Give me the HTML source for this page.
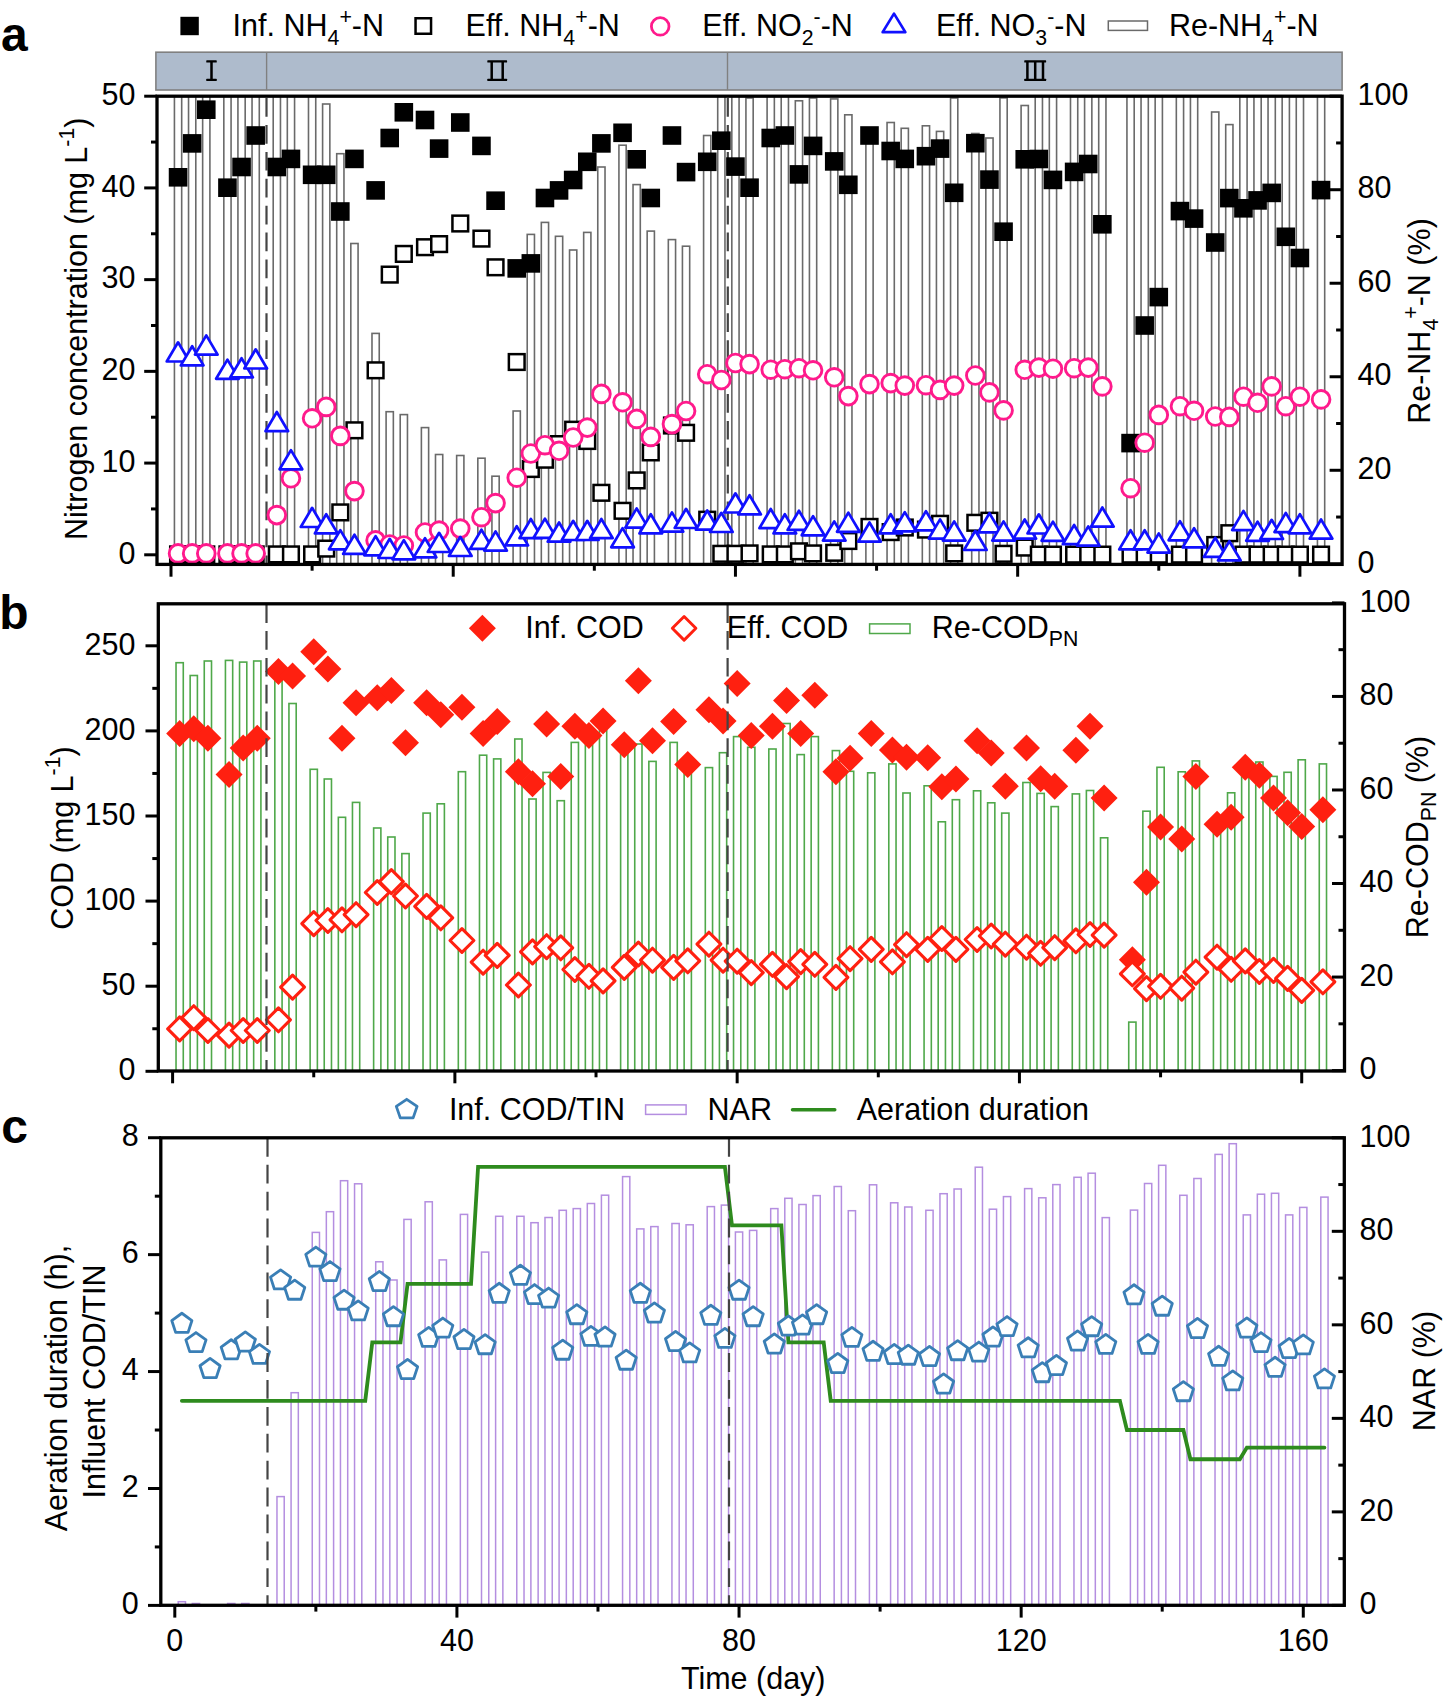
<!DOCTYPE html>
<html><head><meta charset="utf-8"><style>html,body{margin:0;padding:0;background:#fff;}svg{display:block;}</style></head><body>
<svg width="1450" height="1702" viewBox="0 0 1450 1702">
<rect width="100%" height="100%" fill="#fff"/>
<rect x="174.43" y="96" width="7.25" height="468.4" fill="#fff" stroke="#6a6a6a" stroke-width="1.6"/>
<rect x="188.54" y="96" width="7.25" height="468.4" fill="#fff" stroke="#6a6a6a" stroke-width="1.6"/>
<rect x="202.65" y="96" width="7.25" height="468.4" fill="#fff" stroke="#6a6a6a" stroke-width="1.6"/>
<rect x="223.82" y="96" width="7.25" height="468.4" fill="#fff" stroke="#6a6a6a" stroke-width="1.6"/>
<rect x="237.93" y="96" width="7.25" height="468.4" fill="#fff" stroke="#6a6a6a" stroke-width="1.6"/>
<rect x="252.04" y="96" width="7.25" height="468.4" fill="#fff" stroke="#6a6a6a" stroke-width="1.6"/>
<rect x="273.21" y="96" width="7.25" height="468.4" fill="#fff" stroke="#6a6a6a" stroke-width="1.6"/>
<rect x="287.32" y="96" width="7.25" height="468.4" fill="#fff" stroke="#6a6a6a" stroke-width="1.6"/>
<rect x="308.49" y="96" width="7.25" height="468.4" fill="#fff" stroke="#6a6a6a" stroke-width="1.6"/>
<rect x="322.6" y="104" width="7.25" height="460.4" fill="#fff" stroke="#6a6a6a" stroke-width="1.6"/>
<rect x="336.71" y="153.7" width="7.25" height="410.7" fill="#fff" stroke="#6a6a6a" stroke-width="1.6"/>
<rect x="350.82" y="243.5" width="7.25" height="320.9" fill="#fff" stroke="#6a6a6a" stroke-width="1.6"/>
<rect x="371.99" y="333.4" width="7.25" height="231" fill="#fff" stroke="#6a6a6a" stroke-width="1.6"/>
<rect x="386.1" y="411.7" width="7.25" height="152.7" fill="#fff" stroke="#6a6a6a" stroke-width="1.6"/>
<rect x="400.21" y="414.6" width="7.25" height="149.8" fill="#fff" stroke="#6a6a6a" stroke-width="1.6"/>
<rect x="421.38" y="427.6" width="7.25" height="136.8" fill="#fff" stroke="#6a6a6a" stroke-width="1.6"/>
<rect x="435.49" y="454.5" width="7.25" height="109.9" fill="#fff" stroke="#6a6a6a" stroke-width="1.6"/>
<rect x="456.65" y="455.5" width="7.25" height="108.9" fill="#fff" stroke="#6a6a6a" stroke-width="1.6"/>
<rect x="477.82" y="458.2" width="7.25" height="106.2" fill="#fff" stroke="#6a6a6a" stroke-width="1.6"/>
<rect x="491.93" y="476.2" width="7.25" height="88.2" fill="#fff" stroke="#6a6a6a" stroke-width="1.6"/>
<rect x="513.1" y="411" width="7.25" height="153.4" fill="#fff" stroke="#6a6a6a" stroke-width="1.6"/>
<rect x="527.21" y="234.4" width="7.25" height="330" fill="#fff" stroke="#6a6a6a" stroke-width="1.6"/>
<rect x="541.32" y="222.4" width="7.25" height="342" fill="#fff" stroke="#6a6a6a" stroke-width="1.6"/>
<rect x="555.43" y="236.3" width="7.25" height="328.1" fill="#fff" stroke="#6a6a6a" stroke-width="1.6"/>
<rect x="569.54" y="250" width="7.25" height="314.4" fill="#fff" stroke="#6a6a6a" stroke-width="1.6"/>
<rect x="583.66" y="232.4" width="7.25" height="332" fill="#fff" stroke="#6a6a6a" stroke-width="1.6"/>
<rect x="597.77" y="167" width="7.25" height="397.4" fill="#fff" stroke="#6a6a6a" stroke-width="1.6"/>
<rect x="618.93" y="145.2" width="7.25" height="419.2" fill="#fff" stroke="#6a6a6a" stroke-width="1.6"/>
<rect x="633.04" y="184.6" width="7.25" height="379.8" fill="#fff" stroke="#6a6a6a" stroke-width="1.6"/>
<rect x="647.16" y="231.1" width="7.25" height="333.3" fill="#fff" stroke="#6a6a6a" stroke-width="1.6"/>
<rect x="668.32" y="239.6" width="7.25" height="324.8" fill="#fff" stroke="#6a6a6a" stroke-width="1.6"/>
<rect x="682.43" y="246.2" width="7.25" height="318.2" fill="#fff" stroke="#6a6a6a" stroke-width="1.6"/>
<rect x="703.6" y="135.5" width="7.25" height="428.9" fill="#fff" stroke="#6a6a6a" stroke-width="1.6"/>
<rect x="717.71" y="96" width="7.25" height="468.4" fill="#fff" stroke="#6a6a6a" stroke-width="1.6"/>
<rect x="731.82" y="96" width="7.25" height="468.4" fill="#fff" stroke="#6a6a6a" stroke-width="1.6"/>
<rect x="745.93" y="98" width="7.25" height="466.4" fill="#fff" stroke="#6a6a6a" stroke-width="1.6"/>
<rect x="767.1" y="96" width="7.25" height="468.4" fill="#fff" stroke="#6a6a6a" stroke-width="1.6"/>
<rect x="781.21" y="96" width="7.25" height="468.4" fill="#fff" stroke="#6a6a6a" stroke-width="1.6"/>
<rect x="795.32" y="100.8" width="7.25" height="463.6" fill="#fff" stroke="#6a6a6a" stroke-width="1.6"/>
<rect x="809.43" y="98" width="7.25" height="466.4" fill="#fff" stroke="#6a6a6a" stroke-width="1.6"/>
<rect x="830.6" y="98.9" width="7.25" height="465.5" fill="#fff" stroke="#6a6a6a" stroke-width="1.6"/>
<rect x="844.71" y="114.8" width="7.25" height="449.6" fill="#fff" stroke="#6a6a6a" stroke-width="1.6"/>
<rect x="865.88" y="130" width="7.25" height="434.4" fill="#fff" stroke="#6a6a6a" stroke-width="1.6"/>
<rect x="887.05" y="122.5" width="7.25" height="441.9" fill="#fff" stroke="#6a6a6a" stroke-width="1.6"/>
<rect x="901.16" y="128.3" width="7.25" height="436.1" fill="#fff" stroke="#6a6a6a" stroke-width="1.6"/>
<rect x="922.32" y="125.8" width="7.25" height="438.6" fill="#fff" stroke="#6a6a6a" stroke-width="1.6"/>
<rect x="936.44" y="131.4" width="7.25" height="433" fill="#fff" stroke="#6a6a6a" stroke-width="1.6"/>
<rect x="950.55" y="98" width="7.25" height="466.4" fill="#fff" stroke="#6a6a6a" stroke-width="1.6"/>
<rect x="971.71" y="133.5" width="7.25" height="430.9" fill="#fff" stroke="#6a6a6a" stroke-width="1.6"/>
<rect x="985.82" y="138" width="7.25" height="426.4" fill="#fff" stroke="#6a6a6a" stroke-width="1.6"/>
<rect x="999.94" y="97.9" width="7.25" height="466.5" fill="#fff" stroke="#6a6a6a" stroke-width="1.6"/>
<rect x="1021.1" y="105.5" width="7.25" height="458.9" fill="#fff" stroke="#6a6a6a" stroke-width="1.6"/>
<rect x="1035.21" y="96" width="7.25" height="468.4" fill="#fff" stroke="#6a6a6a" stroke-width="1.6"/>
<rect x="1049.33" y="96" width="7.25" height="468.4" fill="#fff" stroke="#6a6a6a" stroke-width="1.6"/>
<rect x="1070.49" y="96" width="7.25" height="468.4" fill="#fff" stroke="#6a6a6a" stroke-width="1.6"/>
<rect x="1084.6" y="96" width="7.25" height="468.4" fill="#fff" stroke="#6a6a6a" stroke-width="1.6"/>
<rect x="1098.71" y="96" width="7.25" height="468.4" fill="#fff" stroke="#6a6a6a" stroke-width="1.6"/>
<rect x="1126.94" y="96" width="7.25" height="468.4" fill="#fff" stroke="#6a6a6a" stroke-width="1.6"/>
<rect x="1141.05" y="96" width="7.25" height="468.4" fill="#fff" stroke="#6a6a6a" stroke-width="1.6"/>
<rect x="1155.16" y="96" width="7.25" height="468.4" fill="#fff" stroke="#6a6a6a" stroke-width="1.6"/>
<rect x="1176.33" y="96" width="7.25" height="468.4" fill="#fff" stroke="#6a6a6a" stroke-width="1.6"/>
<rect x="1190.44" y="96" width="7.25" height="468.4" fill="#fff" stroke="#6a6a6a" stroke-width="1.6"/>
<rect x="1211.6" y="112" width="7.25" height="452.4" fill="#fff" stroke="#6a6a6a" stroke-width="1.6"/>
<rect x="1225.71" y="124.6" width="7.25" height="439.8" fill="#fff" stroke="#6a6a6a" stroke-width="1.6"/>
<rect x="1239.83" y="96" width="7.25" height="468.4" fill="#fff" stroke="#6a6a6a" stroke-width="1.6"/>
<rect x="1253.94" y="96" width="7.25" height="468.4" fill="#fff" stroke="#6a6a6a" stroke-width="1.6"/>
<rect x="1268.05" y="96" width="7.25" height="468.4" fill="#fff" stroke="#6a6a6a" stroke-width="1.6"/>
<rect x="1282.16" y="96" width="7.25" height="468.4" fill="#fff" stroke="#6a6a6a" stroke-width="1.6"/>
<rect x="1296.27" y="96" width="7.25" height="468.4" fill="#fff" stroke="#6a6a6a" stroke-width="1.6"/>
<rect x="1317.44" y="96" width="7.25" height="468.4" fill="#fff" stroke="#6a6a6a" stroke-width="1.6"/>
<line x1="266.5" y1="98.1" x2="266.5" y2="564.4" stroke="#444" stroke-width="2.2" stroke-dasharray="18.7 8.2"/>
<line x1="727.8" y1="98.1" x2="727.8" y2="564.4" stroke="#444" stroke-width="2.2" stroke-dasharray="18.7 8.2"/>
<rect x="168.76" y="168" width="18.6" height="18.6" fill="#000"/>
<rect x="182.87" y="134.1" width="18.6" height="18.6" fill="#000"/>
<rect x="196.98" y="100.4" width="18.6" height="18.6" fill="#000"/>
<rect x="218.14" y="178.4" width="18.6" height="18.6" fill="#000"/>
<rect x="232.26" y="157.7" width="18.6" height="18.6" fill="#000"/>
<rect x="246.37" y="126.2" width="18.6" height="18.6" fill="#000"/>
<rect x="267.53" y="157.7" width="18.6" height="18.6" fill="#000"/>
<rect x="281.65" y="149.6" width="18.6" height="18.6" fill="#000"/>
<rect x="302.81" y="165.5" width="18.6" height="18.6" fill="#000"/>
<rect x="316.92" y="165.5" width="18.6" height="18.6" fill="#000"/>
<rect x="331.03" y="202.2" width="18.6" height="18.6" fill="#000"/>
<rect x="345.15" y="149.6" width="18.6" height="18.6" fill="#000"/>
<rect x="366.31" y="181.1" width="18.6" height="18.6" fill="#000"/>
<rect x="380.42" y="128.7" width="18.6" height="18.6" fill="#000"/>
<rect x="394.53" y="103" width="18.6" height="18.6" fill="#000"/>
<rect x="415.7" y="110.7" width="18.6" height="18.6" fill="#000"/>
<rect x="429.81" y="139.3" width="18.6" height="18.6" fill="#000"/>
<rect x="450.98" y="113.2" width="18.6" height="18.6" fill="#000"/>
<rect x="472.15" y="136.6" width="18.6" height="18.6" fill="#000"/>
<rect x="486.26" y="191.4" width="18.6" height="18.6" fill="#000"/>
<rect x="507.42" y="259.1" width="18.6" height="18.6" fill="#000"/>
<rect x="521.54" y="254.1" width="18.6" height="18.6" fill="#000"/>
<rect x="535.65" y="188.7" width="18.6" height="18.6" fill="#000"/>
<rect x="549.76" y="181.1" width="18.6" height="18.6" fill="#000"/>
<rect x="563.87" y="170.7" width="18.6" height="18.6" fill="#000"/>
<rect x="577.98" y="152.5" width="18.6" height="18.6" fill="#000"/>
<rect x="592.09" y="134.1" width="18.6" height="18.6" fill="#000"/>
<rect x="613.26" y="123.5" width="18.6" height="18.6" fill="#000"/>
<rect x="627.37" y="150" width="18.6" height="18.6" fill="#000"/>
<rect x="641.48" y="188.7" width="18.6" height="18.6" fill="#000"/>
<rect x="662.65" y="126.2" width="18.6" height="18.6" fill="#000"/>
<rect x="676.76" y="162.8" width="18.6" height="18.6" fill="#000"/>
<rect x="697.93" y="152.5" width="18.6" height="18.6" fill="#000"/>
<rect x="712.04" y="131.4" width="18.6" height="18.6" fill="#000"/>
<rect x="726.15" y="157.3" width="18.6" height="18.6" fill="#000"/>
<rect x="740.26" y="178.4" width="18.6" height="18.6" fill="#000"/>
<rect x="761.43" y="128.7" width="18.6" height="18.6" fill="#000"/>
<rect x="775.54" y="126.2" width="18.6" height="18.6" fill="#000"/>
<rect x="789.65" y="165.1" width="18.6" height="18.6" fill="#000"/>
<rect x="803.76" y="136.6" width="18.6" height="18.6" fill="#000"/>
<rect x="824.93" y="152.1" width="18.6" height="18.6" fill="#000"/>
<rect x="839.04" y="175.5" width="18.6" height="18.6" fill="#000"/>
<rect x="860.2" y="126.2" width="18.6" height="18.6" fill="#000"/>
<rect x="881.37" y="141.7" width="18.6" height="18.6" fill="#000"/>
<rect x="895.48" y="149.6" width="18.6" height="18.6" fill="#000"/>
<rect x="916.65" y="146.9" width="18.6" height="18.6" fill="#000"/>
<rect x="930.76" y="139.3" width="18.6" height="18.6" fill="#000"/>
<rect x="944.87" y="183.5" width="18.6" height="18.6" fill="#000"/>
<rect x="966.04" y="133.9" width="18.6" height="18.6" fill="#000"/>
<rect x="980.15" y="170.3" width="18.6" height="18.6" fill="#000"/>
<rect x="994.26" y="222.4" width="18.6" height="18.6" fill="#000"/>
<rect x="1015.43" y="150" width="18.6" height="18.6" fill="#000"/>
<rect x="1029.54" y="149.7" width="18.6" height="18.6" fill="#000"/>
<rect x="1043.65" y="170.6" width="18.6" height="18.6" fill="#000"/>
<rect x="1064.82" y="162.6" width="18.6" height="18.6" fill="#000"/>
<rect x="1078.93" y="154.7" width="18.6" height="18.6" fill="#000"/>
<rect x="1093.04" y="215" width="18.6" height="18.6" fill="#000"/>
<rect x="1121.26" y="433.8" width="18.6" height="18.6" fill="#000"/>
<rect x="1135.37" y="316.2" width="18.6" height="18.6" fill="#000"/>
<rect x="1149.48" y="287.8" width="18.6" height="18.6" fill="#000"/>
<rect x="1170.65" y="201.8" width="18.6" height="18.6" fill="#000"/>
<rect x="1184.76" y="209.3" width="18.6" height="18.6" fill="#000"/>
<rect x="1205.93" y="233.2" width="18.6" height="18.6" fill="#000"/>
<rect x="1220.04" y="188.8" width="18.6" height="18.6" fill="#000"/>
<rect x="1234.15" y="199" width="18.6" height="18.6" fill="#000"/>
<rect x="1248.26" y="191.1" width="18.6" height="18.6" fill="#000"/>
<rect x="1262.37" y="183.6" width="18.6" height="18.6" fill="#000"/>
<rect x="1276.48" y="227.5" width="18.6" height="18.6" fill="#000"/>
<rect x="1290.6" y="248.7" width="18.6" height="18.6" fill="#000"/>
<rect x="1311.76" y="180.8" width="18.6" height="18.6" fill="#000"/>
<rect x="170.21" y="546.55" width="15.7" height="15.7" fill="#fff" stroke="#000" stroke-width="2.5"/>
<rect x="184.32" y="546.55" width="15.7" height="15.7" fill="#fff" stroke="#000" stroke-width="2.5"/>
<rect x="198.43" y="546.55" width="15.7" height="15.7" fill="#fff" stroke="#000" stroke-width="2.5"/>
<rect x="219.59" y="546.55" width="15.7" height="15.7" fill="#fff" stroke="#000" stroke-width="2.5"/>
<rect x="233.71" y="546.55" width="15.7" height="15.7" fill="#fff" stroke="#000" stroke-width="2.5"/>
<rect x="247.82" y="546.55" width="15.7" height="15.7" fill="#fff" stroke="#000" stroke-width="2.5"/>
<rect x="268.98" y="546.55" width="15.7" height="15.7" fill="#fff" stroke="#000" stroke-width="2.5"/>
<rect x="283.1" y="546.55" width="15.7" height="15.7" fill="#fff" stroke="#000" stroke-width="2.5"/>
<rect x="304.26" y="546.55" width="15.7" height="15.7" fill="#fff" stroke="#000" stroke-width="2.5"/>
<rect x="318.37" y="540.75" width="15.7" height="15.7" fill="#fff" stroke="#000" stroke-width="2.5"/>
<rect x="332.48" y="504.55" width="15.7" height="15.7" fill="#fff" stroke="#000" stroke-width="2.5"/>
<rect x="346.6" y="422.45" width="15.7" height="15.7" fill="#fff" stroke="#000" stroke-width="2.5"/>
<rect x="367.76" y="362.45" width="15.7" height="15.7" fill="#fff" stroke="#000" stroke-width="2.5"/>
<rect x="381.87" y="266.75" width="15.7" height="15.7" fill="#fff" stroke="#000" stroke-width="2.5"/>
<rect x="395.98" y="246.05" width="15.7" height="15.7" fill="#fff" stroke="#000" stroke-width="2.5"/>
<rect x="417.15" y="239.35" width="15.7" height="15.7" fill="#fff" stroke="#000" stroke-width="2.5"/>
<rect x="431.26" y="236.25" width="15.7" height="15.7" fill="#fff" stroke="#000" stroke-width="2.5"/>
<rect x="452.43" y="215.65" width="15.7" height="15.7" fill="#fff" stroke="#000" stroke-width="2.5"/>
<rect x="473.6" y="230.75" width="15.7" height="15.7" fill="#fff" stroke="#000" stroke-width="2.5"/>
<rect x="487.71" y="259.45" width="15.7" height="15.7" fill="#fff" stroke="#000" stroke-width="2.5"/>
<rect x="508.87" y="354.15" width="15.7" height="15.7" fill="#fff" stroke="#000" stroke-width="2.5"/>
<rect x="522.99" y="461.15" width="15.7" height="15.7" fill="#fff" stroke="#000" stroke-width="2.5"/>
<rect x="537.1" y="451.85" width="15.7" height="15.7" fill="#fff" stroke="#000" stroke-width="2.5"/>
<rect x="551.21" y="436.25" width="15.7" height="15.7" fill="#fff" stroke="#000" stroke-width="2.5"/>
<rect x="565.32" y="421.85" width="15.7" height="15.7" fill="#fff" stroke="#000" stroke-width="2.5"/>
<rect x="579.43" y="433.15" width="15.7" height="15.7" fill="#fff" stroke="#000" stroke-width="2.5"/>
<rect x="593.54" y="484.95" width="15.7" height="15.7" fill="#fff" stroke="#000" stroke-width="2.5"/>
<rect x="614.71" y="502.95" width="15.7" height="15.7" fill="#fff" stroke="#000" stroke-width="2.5"/>
<rect x="628.82" y="472.55" width="15.7" height="15.7" fill="#fff" stroke="#000" stroke-width="2.5"/>
<rect x="642.93" y="444.55" width="15.7" height="15.7" fill="#fff" stroke="#000" stroke-width="2.5"/>
<rect x="664.1" y="417.65" width="15.7" height="15.7" fill="#fff" stroke="#000" stroke-width="2.5"/>
<rect x="678.21" y="424.95" width="15.7" height="15.7" fill="#fff" stroke="#000" stroke-width="2.5"/>
<rect x="699.38" y="511.85" width="15.7" height="15.7" fill="#fff" stroke="#000" stroke-width="2.5"/>
<rect x="713.49" y="545.95" width="15.7" height="15.7" fill="#fff" stroke="#000" stroke-width="2.5"/>
<rect x="727.6" y="545.95" width="15.7" height="15.7" fill="#fff" stroke="#000" stroke-width="2.5"/>
<rect x="741.71" y="545.55" width="15.7" height="15.7" fill="#fff" stroke="#000" stroke-width="2.5"/>
<rect x="762.88" y="546.55" width="15.7" height="15.7" fill="#fff" stroke="#000" stroke-width="2.5"/>
<rect x="776.99" y="546.55" width="15.7" height="15.7" fill="#fff" stroke="#000" stroke-width="2.5"/>
<rect x="791.1" y="543.45" width="15.7" height="15.7" fill="#fff" stroke="#000" stroke-width="2.5"/>
<rect x="805.21" y="545.55" width="15.7" height="15.7" fill="#fff" stroke="#000" stroke-width="2.5"/>
<rect x="826.38" y="544.95" width="15.7" height="15.7" fill="#fff" stroke="#000" stroke-width="2.5"/>
<rect x="840.49" y="533.15" width="15.7" height="15.7" fill="#fff" stroke="#000" stroke-width="2.5"/>
<rect x="861.65" y="519.05" width="15.7" height="15.7" fill="#fff" stroke="#000" stroke-width="2.5"/>
<rect x="882.82" y="524.25" width="15.7" height="15.7" fill="#fff" stroke="#000" stroke-width="2.5"/>
<rect x="896.93" y="519.65" width="15.7" height="15.7" fill="#fff" stroke="#000" stroke-width="2.5"/>
<rect x="918.1" y="521.75" width="15.7" height="15.7" fill="#fff" stroke="#000" stroke-width="2.5"/>
<rect x="932.21" y="515.95" width="15.7" height="15.7" fill="#fff" stroke="#000" stroke-width="2.5"/>
<rect x="946.32" y="545.55" width="15.7" height="15.7" fill="#fff" stroke="#000" stroke-width="2.5"/>
<rect x="967.49" y="514.95" width="15.7" height="15.7" fill="#fff" stroke="#000" stroke-width="2.5"/>
<rect x="981.6" y="512.85" width="15.7" height="15.7" fill="#fff" stroke="#000" stroke-width="2.5"/>
<rect x="995.71" y="545.95" width="15.7" height="15.7" fill="#fff" stroke="#000" stroke-width="2.5"/>
<rect x="1016.88" y="539.75" width="15.7" height="15.7" fill="#fff" stroke="#000" stroke-width="2.5"/>
<rect x="1030.99" y="546.75" width="15.7" height="15.7" fill="#fff" stroke="#000" stroke-width="2.5"/>
<rect x="1045.1" y="546.75" width="15.7" height="15.7" fill="#fff" stroke="#000" stroke-width="2.5"/>
<rect x="1066.27" y="546.75" width="15.7" height="15.7" fill="#fff" stroke="#000" stroke-width="2.5"/>
<rect x="1080.38" y="546.75" width="15.7" height="15.7" fill="#fff" stroke="#000" stroke-width="2.5"/>
<rect x="1094.49" y="546.75" width="15.7" height="15.7" fill="#fff" stroke="#000" stroke-width="2.5"/>
<rect x="1122.71" y="546.75" width="15.7" height="15.7" fill="#fff" stroke="#000" stroke-width="2.5"/>
<rect x="1136.82" y="546.75" width="15.7" height="15.7" fill="#fff" stroke="#000" stroke-width="2.5"/>
<rect x="1150.93" y="546.75" width="15.7" height="15.7" fill="#fff" stroke="#000" stroke-width="2.5"/>
<rect x="1172.1" y="546.75" width="15.7" height="15.7" fill="#fff" stroke="#000" stroke-width="2.5"/>
<rect x="1186.21" y="546.75" width="15.7" height="15.7" fill="#fff" stroke="#000" stroke-width="2.5"/>
<rect x="1207.38" y="537.15" width="15.7" height="15.7" fill="#fff" stroke="#000" stroke-width="2.5"/>
<rect x="1221.49" y="525.35" width="15.7" height="15.7" fill="#fff" stroke="#000" stroke-width="2.5"/>
<rect x="1235.6" y="546.75" width="15.7" height="15.7" fill="#fff" stroke="#000" stroke-width="2.5"/>
<rect x="1249.71" y="546.75" width="15.7" height="15.7" fill="#fff" stroke="#000" stroke-width="2.5"/>
<rect x="1263.82" y="546.75" width="15.7" height="15.7" fill="#fff" stroke="#000" stroke-width="2.5"/>
<rect x="1277.93" y="546.75" width="15.7" height="15.7" fill="#fff" stroke="#000" stroke-width="2.5"/>
<rect x="1292.05" y="546.75" width="15.7" height="15.7" fill="#fff" stroke="#000" stroke-width="2.5"/>
<rect x="1313.21" y="546.75" width="15.7" height="15.7" fill="#fff" stroke="#000" stroke-width="2.5"/>
<circle cx="178.06" cy="553.4" r="8.85" fill="#fff" stroke="#ff1a8c" stroke-width="2.9"/>
<circle cx="192.17" cy="553.4" r="8.85" fill="#fff" stroke="#ff1a8c" stroke-width="2.9"/>
<circle cx="206.28" cy="553.4" r="8.85" fill="#fff" stroke="#ff1a8c" stroke-width="2.9"/>
<circle cx="227.44" cy="553.4" r="8.85" fill="#fff" stroke="#ff1a8c" stroke-width="2.9"/>
<circle cx="241.56" cy="553.4" r="8.85" fill="#fff" stroke="#ff1a8c" stroke-width="2.9"/>
<circle cx="255.67" cy="553.4" r="8.85" fill="#fff" stroke="#ff1a8c" stroke-width="2.9"/>
<circle cx="276.83" cy="515.1" r="8.85" fill="#fff" stroke="#ff1a8c" stroke-width="2.9"/>
<circle cx="290.95" cy="478.3" r="8.85" fill="#fff" stroke="#ff1a8c" stroke-width="2.9"/>
<circle cx="312.11" cy="418.3" r="8.85" fill="#fff" stroke="#ff1a8c" stroke-width="2.9"/>
<circle cx="326.22" cy="406.9" r="8.85" fill="#fff" stroke="#ff1a8c" stroke-width="2.9"/>
<circle cx="340.33" cy="435.9" r="8.85" fill="#fff" stroke="#ff1a8c" stroke-width="2.9"/>
<circle cx="354.45" cy="491.1" r="8.85" fill="#fff" stroke="#ff1a8c" stroke-width="2.9"/>
<circle cx="375.61" cy="540.4" r="8.85" fill="#fff" stroke="#ff1a8c" stroke-width="2.9"/>
<circle cx="389.72" cy="544.5" r="8.85" fill="#fff" stroke="#ff1a8c" stroke-width="2.9"/>
<circle cx="403.83" cy="545.5" r="8.85" fill="#fff" stroke="#ff1a8c" stroke-width="2.9"/>
<circle cx="425" cy="532.5" r="8.85" fill="#fff" stroke="#ff1a8c" stroke-width="2.9"/>
<circle cx="439.11" cy="530.6" r="8.85" fill="#fff" stroke="#ff1a8c" stroke-width="2.9"/>
<circle cx="460.28" cy="528.6" r="8.85" fill="#fff" stroke="#ff1a8c" stroke-width="2.9"/>
<circle cx="481.45" cy="517.2" r="8.85" fill="#fff" stroke="#ff1a8c" stroke-width="2.9"/>
<circle cx="495.56" cy="503.1" r="8.85" fill="#fff" stroke="#ff1a8c" stroke-width="2.9"/>
<circle cx="516.72" cy="477.7" r="8.85" fill="#fff" stroke="#ff1a8c" stroke-width="2.9"/>
<circle cx="530.84" cy="453.5" r="8.85" fill="#fff" stroke="#ff1a8c" stroke-width="2.9"/>
<circle cx="544.95" cy="445.2" r="8.85" fill="#fff" stroke="#ff1a8c" stroke-width="2.9"/>
<circle cx="559.06" cy="450.8" r="8.85" fill="#fff" stroke="#ff1a8c" stroke-width="2.9"/>
<circle cx="573.17" cy="437.5" r="8.85" fill="#fff" stroke="#ff1a8c" stroke-width="2.9"/>
<circle cx="587.28" cy="427.6" r="8.85" fill="#fff" stroke="#ff1a8c" stroke-width="2.9"/>
<circle cx="601.39" cy="393.9" r="8.85" fill="#fff" stroke="#ff1a8c" stroke-width="2.9"/>
<circle cx="622.56" cy="402.3" r="8.85" fill="#fff" stroke="#ff1a8c" stroke-width="2.9"/>
<circle cx="636.67" cy="418.9" r="8.85" fill="#fff" stroke="#ff1a8c" stroke-width="2.9"/>
<circle cx="650.78" cy="436.9" r="8.85" fill="#fff" stroke="#ff1a8c" stroke-width="2.9"/>
<circle cx="671.95" cy="424.1" r="8.85" fill="#fff" stroke="#ff1a8c" stroke-width="2.9"/>
<circle cx="686.06" cy="411" r="8.85" fill="#fff" stroke="#ff1a8c" stroke-width="2.9"/>
<circle cx="707.23" cy="374.2" r="8.85" fill="#fff" stroke="#ff1a8c" stroke-width="2.9"/>
<circle cx="721.34" cy="380" r="8.85" fill="#fff" stroke="#ff1a8c" stroke-width="2.9"/>
<circle cx="735.45" cy="363" r="8.85" fill="#fff" stroke="#ff1a8c" stroke-width="2.9"/>
<circle cx="749.56" cy="364.1" r="8.85" fill="#fff" stroke="#ff1a8c" stroke-width="2.9"/>
<circle cx="770.73" cy="369.7" r="8.85" fill="#fff" stroke="#ff1a8c" stroke-width="2.9"/>
<circle cx="784.84" cy="369.2" r="8.85" fill="#fff" stroke="#ff1a8c" stroke-width="2.9"/>
<circle cx="798.95" cy="368.2" r="8.85" fill="#fff" stroke="#ff1a8c" stroke-width="2.9"/>
<circle cx="813.06" cy="370.3" r="8.85" fill="#fff" stroke="#ff1a8c" stroke-width="2.9"/>
<circle cx="834.23" cy="377.3" r="8.85" fill="#fff" stroke="#ff1a8c" stroke-width="2.9"/>
<circle cx="848.34" cy="396.1" r="8.85" fill="#fff" stroke="#ff1a8c" stroke-width="2.9"/>
<circle cx="869.5" cy="384.1" r="8.85" fill="#fff" stroke="#ff1a8c" stroke-width="2.9"/>
<circle cx="890.67" cy="383.1" r="8.85" fill="#fff" stroke="#ff1a8c" stroke-width="2.9"/>
<circle cx="904.78" cy="385.6" r="8.85" fill="#fff" stroke="#ff1a8c" stroke-width="2.9"/>
<circle cx="925.95" cy="385.2" r="8.85" fill="#fff" stroke="#ff1a8c" stroke-width="2.9"/>
<circle cx="940.06" cy="389.9" r="8.85" fill="#fff" stroke="#ff1a8c" stroke-width="2.9"/>
<circle cx="954.17" cy="385.6" r="8.85" fill="#fff" stroke="#ff1a8c" stroke-width="2.9"/>
<circle cx="975.34" cy="375.5" r="8.85" fill="#fff" stroke="#ff1a8c" stroke-width="2.9"/>
<circle cx="989.45" cy="392.4" r="8.85" fill="#fff" stroke="#ff1a8c" stroke-width="2.9"/>
<circle cx="1003.56" cy="410.4" r="8.85" fill="#fff" stroke="#ff1a8c" stroke-width="2.9"/>
<circle cx="1024.73" cy="369.8" r="8.85" fill="#fff" stroke="#ff1a8c" stroke-width="2.9"/>
<circle cx="1038.84" cy="367.6" r="8.85" fill="#fff" stroke="#ff1a8c" stroke-width="2.9"/>
<circle cx="1052.95" cy="368.7" r="8.85" fill="#fff" stroke="#ff1a8c" stroke-width="2.9"/>
<circle cx="1074.12" cy="368.2" r="8.85" fill="#fff" stroke="#ff1a8c" stroke-width="2.9"/>
<circle cx="1088.23" cy="367.6" r="8.85" fill="#fff" stroke="#ff1a8c" stroke-width="2.9"/>
<circle cx="1102.34" cy="386.4" r="8.85" fill="#fff" stroke="#ff1a8c" stroke-width="2.9"/>
<circle cx="1130.56" cy="488.2" r="8.85" fill="#fff" stroke="#ff1a8c" stroke-width="2.9"/>
<circle cx="1144.67" cy="442.7" r="8.85" fill="#fff" stroke="#ff1a8c" stroke-width="2.9"/>
<circle cx="1158.78" cy="414.9" r="8.85" fill="#fff" stroke="#ff1a8c" stroke-width="2.9"/>
<circle cx="1179.95" cy="406.2" r="8.85" fill="#fff" stroke="#ff1a8c" stroke-width="2.9"/>
<circle cx="1194.06" cy="410.8" r="8.85" fill="#fff" stroke="#ff1a8c" stroke-width="2.9"/>
<circle cx="1215.23" cy="416.5" r="8.85" fill="#fff" stroke="#ff1a8c" stroke-width="2.9"/>
<circle cx="1229.34" cy="416.9" r="8.85" fill="#fff" stroke="#ff1a8c" stroke-width="2.9"/>
<circle cx="1243.45" cy="396.7" r="8.85" fill="#fff" stroke="#ff1a8c" stroke-width="2.9"/>
<circle cx="1257.56" cy="402.8" r="8.85" fill="#fff" stroke="#ff1a8c" stroke-width="2.9"/>
<circle cx="1271.67" cy="386.4" r="8.85" fill="#fff" stroke="#ff1a8c" stroke-width="2.9"/>
<circle cx="1285.78" cy="406.2" r="8.85" fill="#fff" stroke="#ff1a8c" stroke-width="2.9"/>
<circle cx="1299.9" cy="396.7" r="8.85" fill="#fff" stroke="#ff1a8c" stroke-width="2.9"/>
<circle cx="1321.06" cy="399.4" r="8.85" fill="#fff" stroke="#ff1a8c" stroke-width="2.9"/>
<path d="M178.06 342.3L189.41 361.5L166.71 361.5Z" fill="#fff" stroke="#1010ff" stroke-width="2.7" stroke-linejoin="round"/>
<path d="M192.17 346.2L203.52 365.4L180.82 365.4Z" fill="#fff" stroke="#1010ff" stroke-width="2.7" stroke-linejoin="round"/>
<path d="M206.28 335.4L217.63 354.6L194.93 354.6Z" fill="#fff" stroke="#1010ff" stroke-width="2.7" stroke-linejoin="round"/>
<path d="M227.44 359.6L238.79 378.8L216.09 378.8Z" fill="#fff" stroke="#1010ff" stroke-width="2.7" stroke-linejoin="round"/>
<path d="M241.56 358.2L252.91 377.4L230.21 377.4Z" fill="#fff" stroke="#1010ff" stroke-width="2.7" stroke-linejoin="round"/>
<path d="M255.67 349.3L267.02 368.5L244.32 368.5Z" fill="#fff" stroke="#1010ff" stroke-width="2.7" stroke-linejoin="round"/>
<path d="M276.83 412L288.18 431.2L265.48 431.2Z" fill="#fff" stroke="#1010ff" stroke-width="2.7" stroke-linejoin="round"/>
<path d="M290.95 450.1L302.3 469.3L279.6 469.3Z" fill="#fff" stroke="#1010ff" stroke-width="2.7" stroke-linejoin="round"/>
<path d="M312.11 507.8L323.46 527L300.76 527Z" fill="#fff" stroke="#1010ff" stroke-width="2.7" stroke-linejoin="round"/>
<path d="M326.22 514.2L337.57 533.4L314.87 533.4Z" fill="#fff" stroke="#1010ff" stroke-width="2.7" stroke-linejoin="round"/>
<path d="M340.33 530.1L351.68 549.3L328.98 549.3Z" fill="#fff" stroke="#1010ff" stroke-width="2.7" stroke-linejoin="round"/>
<path d="M354.45 534.7L365.8 553.9L343.1 553.9Z" fill="#fff" stroke="#1010ff" stroke-width="2.7" stroke-linejoin="round"/>
<path d="M375.61 536.1L386.96 555.3L364.26 555.3Z" fill="#fff" stroke="#1010ff" stroke-width="2.7" stroke-linejoin="round"/>
<path d="M389.72 538.8L401.07 558L378.37 558Z" fill="#fff" stroke="#1010ff" stroke-width="2.7" stroke-linejoin="round"/>
<path d="M403.83 540.1L415.18 559.3L392.48 559.3Z" fill="#fff" stroke="#1010ff" stroke-width="2.7" stroke-linejoin="round"/>
<path d="M425 538.2L436.35 557.4L413.65 557.4Z" fill="#fff" stroke="#1010ff" stroke-width="2.7" stroke-linejoin="round"/>
<path d="M439.11 532.8L450.46 552L427.76 552Z" fill="#fff" stroke="#1010ff" stroke-width="2.7" stroke-linejoin="round"/>
<path d="M460.28 536.8L471.63 556L448.93 556Z" fill="#fff" stroke="#1010ff" stroke-width="2.7" stroke-linejoin="round"/>
<path d="M481.45 529.7L492.8 548.9L470.1 548.9Z" fill="#fff" stroke="#1010ff" stroke-width="2.7" stroke-linejoin="round"/>
<path d="M495.56 531.4L506.91 550.6L484.21 550.6Z" fill="#fff" stroke="#1010ff" stroke-width="2.7" stroke-linejoin="round"/>
<path d="M516.72 526.2L528.07 545.4L505.37 545.4Z" fill="#fff" stroke="#1010ff" stroke-width="2.7" stroke-linejoin="round"/>
<path d="M530.84 519L542.19 538.2L519.49 538.2Z" fill="#fff" stroke="#1010ff" stroke-width="2.7" stroke-linejoin="round"/>
<path d="M544.95 518.6L556.3 537.8L533.6 537.8Z" fill="#fff" stroke="#1010ff" stroke-width="2.7" stroke-linejoin="round"/>
<path d="M559.06 522.5L570.41 541.7L547.71 541.7Z" fill="#fff" stroke="#1010ff" stroke-width="2.7" stroke-linejoin="round"/>
<path d="M573.17 520.8L584.52 540L561.82 540Z" fill="#fff" stroke="#1010ff" stroke-width="2.7" stroke-linejoin="round"/>
<path d="M587.28 520.8L598.63 540L575.93 540Z" fill="#fff" stroke="#1010ff" stroke-width="2.7" stroke-linejoin="round"/>
<path d="M601.39 519L612.74 538.2L590.04 538.2Z" fill="#fff" stroke="#1010ff" stroke-width="2.7" stroke-linejoin="round"/>
<path d="M622.56 528.1L633.91 547.3L611.21 547.3Z" fill="#fff" stroke="#1010ff" stroke-width="2.7" stroke-linejoin="round"/>
<path d="M636.67 508.4L648.02 527.6L625.32 527.6Z" fill="#fff" stroke="#1010ff" stroke-width="2.7" stroke-linejoin="round"/>
<path d="M650.78 514.2L662.13 533.4L639.43 533.4Z" fill="#fff" stroke="#1010ff" stroke-width="2.7" stroke-linejoin="round"/>
<path d="M671.95 512.4L683.3 531.6L660.6 531.6Z" fill="#fff" stroke="#1010ff" stroke-width="2.7" stroke-linejoin="round"/>
<path d="M686.06 508.8L697.41 528L674.71 528Z" fill="#fff" stroke="#1010ff" stroke-width="2.7" stroke-linejoin="round"/>
<path d="M707.23 510.5L718.58 529.7L695.88 529.7Z" fill="#fff" stroke="#1010ff" stroke-width="2.7" stroke-linejoin="round"/>
<path d="M721.34 512.8L732.69 532L709.99 532Z" fill="#fff" stroke="#1010ff" stroke-width="2.7" stroke-linejoin="round"/>
<path d="M735.45 493.3L746.8 512.5L724.1 512.5Z" fill="#fff" stroke="#1010ff" stroke-width="2.7" stroke-linejoin="round"/>
<path d="M749.56 495.2L760.91 514.4L738.21 514.4Z" fill="#fff" stroke="#1010ff" stroke-width="2.7" stroke-linejoin="round"/>
<path d="M770.73 509L782.08 528.2L759.38 528.2Z" fill="#fff" stroke="#1010ff" stroke-width="2.7" stroke-linejoin="round"/>
<path d="M784.84 514.2L796.19 533.4L773.49 533.4Z" fill="#fff" stroke="#1010ff" stroke-width="2.7" stroke-linejoin="round"/>
<path d="M798.95 510.7L810.3 529.9L787.6 529.9Z" fill="#fff" stroke="#1010ff" stroke-width="2.7" stroke-linejoin="round"/>
<path d="M813.06 516.1L824.41 535.3L801.71 535.3Z" fill="#fff" stroke="#1010ff" stroke-width="2.7" stroke-linejoin="round"/>
<path d="M834.23 521.4L845.58 540.6L822.88 540.6Z" fill="#fff" stroke="#1010ff" stroke-width="2.7" stroke-linejoin="round"/>
<path d="M848.34 512.6L859.69 531.8L836.99 531.8Z" fill="#fff" stroke="#1010ff" stroke-width="2.7" stroke-linejoin="round"/>
<path d="M869.5 522.5L880.85 541.7L858.15 541.7Z" fill="#fff" stroke="#1010ff" stroke-width="2.7" stroke-linejoin="round"/>
<path d="M890.67 514.2L902.02 533.4L879.32 533.4Z" fill="#fff" stroke="#1010ff" stroke-width="2.7" stroke-linejoin="round"/>
<path d="M904.78 512.1L916.13 531.3L893.43 531.3Z" fill="#fff" stroke="#1010ff" stroke-width="2.7" stroke-linejoin="round"/>
<path d="M925.95 511.1L937.3 530.3L914.6 530.3Z" fill="#fff" stroke="#1010ff" stroke-width="2.7" stroke-linejoin="round"/>
<path d="M940.06 519.4L951.41 538.6L928.71 538.6Z" fill="#fff" stroke="#1010ff" stroke-width="2.7" stroke-linejoin="round"/>
<path d="M954.17 521.4L965.52 540.6L942.82 540.6Z" fill="#fff" stroke="#1010ff" stroke-width="2.7" stroke-linejoin="round"/>
<path d="M975.34 530.8L986.69 550L963.99 550Z" fill="#fff" stroke="#1010ff" stroke-width="2.7" stroke-linejoin="round"/>
<path d="M989.45 513.2L1000.8 532.4L978.1 532.4Z" fill="#fff" stroke="#1010ff" stroke-width="2.7" stroke-linejoin="round"/>
<path d="M1003.56 521.4L1014.91 540.6L992.21 540.6Z" fill="#fff" stroke="#1010ff" stroke-width="2.7" stroke-linejoin="round"/>
<path d="M1024.73 519.5L1036.08 538.7L1013.38 538.7Z" fill="#fff" stroke="#1010ff" stroke-width="2.7" stroke-linejoin="round"/>
<path d="M1038.84 514.3L1050.19 533.5L1027.49 533.5Z" fill="#fff" stroke="#1010ff" stroke-width="2.7" stroke-linejoin="round"/>
<path d="M1052.95 521.6L1064.3 540.8L1041.6 540.8Z" fill="#fff" stroke="#1010ff" stroke-width="2.7" stroke-linejoin="round"/>
<path d="M1074.12 525L1085.47 544.2L1062.77 544.2Z" fill="#fff" stroke="#1010ff" stroke-width="2.7" stroke-linejoin="round"/>
<path d="M1088.23 526.4L1099.58 545.6L1076.88 545.6Z" fill="#fff" stroke="#1010ff" stroke-width="2.7" stroke-linejoin="round"/>
<path d="M1102.34 507.5L1113.69 526.7L1090.99 526.7Z" fill="#fff" stroke="#1010ff" stroke-width="2.7" stroke-linejoin="round"/>
<path d="M1130.56 530.2L1141.91 549.4L1119.21 549.4Z" fill="#fff" stroke="#1010ff" stroke-width="2.7" stroke-linejoin="round"/>
<path d="M1144.67 530.2L1156.02 549.4L1133.32 549.4Z" fill="#fff" stroke="#1010ff" stroke-width="2.7" stroke-linejoin="round"/>
<path d="M1158.78 533.4L1170.13 552.6L1147.43 552.6Z" fill="#fff" stroke="#1010ff" stroke-width="2.7" stroke-linejoin="round"/>
<path d="M1179.95 521.1L1191.3 540.3L1168.6 540.3Z" fill="#fff" stroke="#1010ff" stroke-width="2.7" stroke-linejoin="round"/>
<path d="M1194.06 528.2L1205.41 547.4L1182.71 547.4Z" fill="#fff" stroke="#1010ff" stroke-width="2.7" stroke-linejoin="round"/>
<path d="M1215.23 537.7L1226.58 556.9L1203.88 556.9Z" fill="#fff" stroke="#1010ff" stroke-width="2.7" stroke-linejoin="round"/>
<path d="M1229.34 541.2L1240.69 560.4L1217.99 560.4Z" fill="#fff" stroke="#1010ff" stroke-width="2.7" stroke-linejoin="round"/>
<path d="M1243.45 510.9L1254.8 530.1L1232.1 530.1Z" fill="#fff" stroke="#1010ff" stroke-width="2.7" stroke-linejoin="round"/>
<path d="M1257.56 521.6L1268.91 540.8L1246.21 540.8Z" fill="#fff" stroke="#1010ff" stroke-width="2.7" stroke-linejoin="round"/>
<path d="M1271.67 519.8L1283.02 539L1260.32 539Z" fill="#fff" stroke="#1010ff" stroke-width="2.7" stroke-linejoin="round"/>
<path d="M1285.78 512.9L1297.13 532.1L1274.43 532.1Z" fill="#fff" stroke="#1010ff" stroke-width="2.7" stroke-linejoin="round"/>
<path d="M1299.9 514.1L1311.25 533.3L1288.55 533.3Z" fill="#fff" stroke="#1010ff" stroke-width="2.7" stroke-linejoin="round"/>
<path d="M1321.06 519.5L1332.41 538.7L1309.71 538.7Z" fill="#fff" stroke="#1010ff" stroke-width="2.7" stroke-linejoin="round"/>
<rect x="157" y="96.2" width="1185.1" height="468.2" fill="none" stroke="#000" stroke-width="3.3"/>
<line x1="144.2" y1="554.8" x2="157" y2="554.8" stroke="#000" stroke-width="3.0"/>
<line x1="144.2" y1="463.08" x2="157" y2="463.08" stroke="#000" stroke-width="3.0"/>
<line x1="144.2" y1="371.36" x2="157" y2="371.36" stroke="#000" stroke-width="3.0"/>
<line x1="144.2" y1="279.64" x2="157" y2="279.64" stroke="#000" stroke-width="3.0"/>
<line x1="144.2" y1="187.92" x2="157" y2="187.92" stroke="#000" stroke-width="3.0"/>
<line x1="144.2" y1="96.2" x2="157" y2="96.2" stroke="#000" stroke-width="3.0"/>
<line x1="151" y1="508.94" x2="157" y2="508.94" stroke="#000" stroke-width="3.0"/>
<line x1="151" y1="417.22" x2="157" y2="417.22" stroke="#000" stroke-width="3.0"/>
<line x1="151" y1="325.5" x2="157" y2="325.5" stroke="#000" stroke-width="3.0"/>
<line x1="151" y1="233.78" x2="157" y2="233.78" stroke="#000" stroke-width="3.0"/>
<line x1="151" y1="142.06" x2="157" y2="142.06" stroke="#000" stroke-width="3.0"/>
<text x="135.5" y="563.52" font-size="30.5" text-anchor="end" font-family="Liberation Sans, sans-serif" >0</text>
<text x="135.5" y="471.8" font-size="30.5" text-anchor="end" font-family="Liberation Sans, sans-serif" >10</text>
<text x="135.5" y="380.08" font-size="30.5" text-anchor="end" font-family="Liberation Sans, sans-serif" >20</text>
<text x="135.5" y="288.36" font-size="30.5" text-anchor="end" font-family="Liberation Sans, sans-serif" >30</text>
<text x="135.5" y="196.64" font-size="30.5" text-anchor="end" font-family="Liberation Sans, sans-serif" >40</text>
<text x="135.5" y="104.92" font-size="30.5" text-anchor="end" font-family="Liberation Sans, sans-serif" >50</text>
<line x1="1329.6" y1="563.8" x2="1342.1" y2="563.8" stroke="#000" stroke-width="3.0"/>
<line x1="1329.6" y1="470.28" x2="1342.1" y2="470.28" stroke="#000" stroke-width="3.0"/>
<line x1="1329.6" y1="376.76" x2="1342.1" y2="376.76" stroke="#000" stroke-width="3.0"/>
<line x1="1329.6" y1="283.24" x2="1342.1" y2="283.24" stroke="#000" stroke-width="3.0"/>
<line x1="1329.6" y1="189.72" x2="1342.1" y2="189.72" stroke="#000" stroke-width="3.0"/>
<line x1="1329.6" y1="96.2" x2="1342.1" y2="96.2" stroke="#000" stroke-width="3.0"/>
<line x1="1336.1" y1="517.04" x2="1342.1" y2="517.04" stroke="#000" stroke-width="3.0"/>
<line x1="1336.1" y1="423.52" x2="1342.1" y2="423.52" stroke="#000" stroke-width="3.0"/>
<line x1="1336.1" y1="330" x2="1342.1" y2="330" stroke="#000" stroke-width="3.0"/>
<line x1="1336.1" y1="236.48" x2="1342.1" y2="236.48" stroke="#000" stroke-width="3.0"/>
<line x1="1336.1" y1="142.96" x2="1342.1" y2="142.96" stroke="#000" stroke-width="3.0"/>
<text x="1357.5" y="572.52" font-size="30.5" text-anchor="start" font-family="Liberation Sans, sans-serif" >0</text>
<text x="1357.5" y="479" font-size="30.5" text-anchor="start" font-family="Liberation Sans, sans-serif" >20</text>
<text x="1357.5" y="385.48" font-size="30.5" text-anchor="start" font-family="Liberation Sans, sans-serif" >40</text>
<text x="1357.5" y="291.96" font-size="30.5" text-anchor="start" font-family="Liberation Sans, sans-serif" >60</text>
<text x="1357.5" y="198.44" font-size="30.5" text-anchor="start" font-family="Liberation Sans, sans-serif" >80</text>
<text x="1357.5" y="104.92" font-size="30.5" text-anchor="start" font-family="Liberation Sans, sans-serif" >100</text>
<line x1="171" y1="564.4" x2="171" y2="576.7" stroke="#000" stroke-width="3.0"/>
<line x1="453.22" y1="564.4" x2="453.22" y2="576.7" stroke="#000" stroke-width="3.0"/>
<line x1="735.45" y1="564.4" x2="735.45" y2="576.7" stroke="#000" stroke-width="3.0"/>
<line x1="1017.67" y1="564.4" x2="1017.67" y2="576.7" stroke="#000" stroke-width="3.0"/>
<line x1="1299.9" y1="564.4" x2="1299.9" y2="576.7" stroke="#000" stroke-width="3.0"/>
<line x1="312.11" y1="564.4" x2="312.11" y2="570.7" stroke="#000" stroke-width="3.0"/>
<line x1="594.34" y1="564.4" x2="594.34" y2="570.7" stroke="#000" stroke-width="3.0"/>
<line x1="876.56" y1="564.4" x2="876.56" y2="570.7" stroke="#000" stroke-width="3.0"/>
<line x1="1158.78" y1="564.4" x2="1158.78" y2="570.7" stroke="#000" stroke-width="3.0"/>
<rect x="155.9" y="52.2" width="1186.2" height="37.8" fill="#aebbcc" stroke="#808080" stroke-width="1.6"/>
<line x1="266.6" y1="52.2" x2="266.6" y2="90" stroke="#808080" stroke-width="1.4"/>
<line x1="727.5" y1="52.2" x2="727.5" y2="90" stroke="#808080" stroke-width="1.4"/>
<g fill="#000"><rect x="206.25" y="60.3" width="10.5" height="2.3" rx="0.6"/><rect x="206.25" y="78.7" width="10.5" height="2.3" rx="0.6"/><rect x="210.25" y="61" width="2.5" height="19"/></g>
<g fill="#000"><rect x="487.3" y="60.3" width="19.8" height="2.3" rx="0.6"/><rect x="487.3" y="78.7" width="19.8" height="2.3" rx="0.6"/><rect x="490.45" y="61" width="2.5" height="19"/><rect x="501.45" y="61" width="2.5" height="19"/></g>
<g fill="#000"><rect x="1024.25" y="60.3" width="21.9" height="2.3" rx="0.6"/><rect x="1024.25" y="78.7" width="21.9" height="2.3" rx="0.6"/><rect x="1026.15" y="61" width="2.5" height="19"/><rect x="1033.95" y="61" width="2.5" height="19"/><rect x="1041.75" y="61" width="2.5" height="19"/></g>
<rect x="180.4" y="16.8" width="18.4" height="18.4" fill="#000"/>
<text x="232.6" y="36.2" font-size="30.5" text-anchor="start" font-family="Liberation Sans, sans-serif" >Inf. NH<tspan font-size="21.3" dy="8.5">4</tspan><tspan font-size="21.3" dy="-21">+</tspan><tspan dy="12.5">-N</tspan></text>
<rect x="415.55" y="18.25" width="15.5" height="15.5" fill="#fff" stroke="#000" stroke-width="2.5"/>
<text x="465.6" y="36.2" font-size="30.5" text-anchor="start" font-family="Liberation Sans, sans-serif" >Eff. NH<tspan font-size="21.3" dy="8.5">4</tspan><tspan font-size="21.3" dy="-21">+</tspan><tspan dy="12.5">-N</tspan></text>
<circle cx="660.2" cy="26.4" r="8.8" fill="#fff" stroke="#ff1a8c" stroke-width="2.8"/>
<text x="702.3" y="36.2" font-size="30.5" text-anchor="start" font-family="Liberation Sans, sans-serif" >Eff. NO<tspan font-size="21.3" dy="8.5">2</tspan><tspan font-size="21.3" dy="-21">-</tspan><tspan dy="12.5">-N</tspan></text>
<path d="M894 13.65L905.35 32.15L882.65 32.15Z" fill="#fff" stroke="#1010ff" stroke-width="2.7" stroke-linejoin="round"/>
<text x="935.9" y="36.2" font-size="30.5" text-anchor="start" font-family="Liberation Sans, sans-serif" >Eff. NO<tspan font-size="21.3" dy="8.5">3</tspan><tspan font-size="21.3" dy="-21">-</tspan><tspan dy="12.5">-N</tspan></text>
<rect x="1108.3" y="21" width="39.2" height="9.4" fill="#fff" stroke="#6a6a6a" stroke-width="1.5"/>
<text x="1168.9" y="36.2" font-size="30.5" text-anchor="start" font-family="Liberation Sans, sans-serif" >Re-NH<tspan font-size="21.3" dy="8.5">4</tspan><tspan font-size="21.3" dy="-21">+</tspan><tspan dy="12.5">-N</tspan></text>
<text transform="translate(87.2 328.8) rotate(-90)" font-size="30.5" text-anchor="middle" font-family="Liberation Sans, sans-serif">Nitrogen concentration (mg L<tspan font-size="21.3" dy="-13">-1</tspan><tspan dy="13">)</tspan></text>
<text transform="translate(1430 321) rotate(-90)" font-size="30.5" text-anchor="middle" font-family="Liberation Sans, sans-serif">Re-NH<tspan font-size="21.3" dy="7.5">4</tspan><tspan font-size="21.3" dy="-20">+</tspan><tspan dy="12.5">-N (%)</tspan></text>
<text x="1" y="51" font-size="48" text-anchor="start" font-family="Liberation Sans, sans-serif" font-weight="bold">a</text>
<rect x="176.03" y="662.7" width="7.25" height="408.3" fill="#fff" stroke="#4fa84a" stroke-width="1.6"/>
<rect x="190.15" y="675.5" width="7.25" height="395.5" fill="#fff" stroke="#4fa84a" stroke-width="1.6"/>
<rect x="204.26" y="661" width="7.25" height="410" fill="#fff" stroke="#4fa84a" stroke-width="1.6"/>
<rect x="225.43" y="660.4" width="7.25" height="410.6" fill="#fff" stroke="#4fa84a" stroke-width="1.6"/>
<rect x="239.55" y="662.1" width="7.25" height="408.9" fill="#fff" stroke="#4fa84a" stroke-width="1.6"/>
<rect x="253.66" y="661" width="7.25" height="410" fill="#fff" stroke="#4fa84a" stroke-width="1.6"/>
<rect x="274.83" y="670" width="7.25" height="401" fill="#fff" stroke="#4fa84a" stroke-width="1.6"/>
<rect x="288.94" y="703.5" width="7.25" height="367.5" fill="#fff" stroke="#4fa84a" stroke-width="1.6"/>
<rect x="310.12" y="769.3" width="7.25" height="301.7" fill="#fff" stroke="#4fa84a" stroke-width="1.6"/>
<rect x="324.23" y="779" width="7.25" height="292" fill="#fff" stroke="#4fa84a" stroke-width="1.6"/>
<rect x="338.34" y="817.3" width="7.25" height="253.7" fill="#fff" stroke="#4fa84a" stroke-width="1.6"/>
<rect x="352.46" y="802.4" width="7.25" height="268.6" fill="#fff" stroke="#4fa84a" stroke-width="1.6"/>
<rect x="373.63" y="828" width="7.25" height="243" fill="#fff" stroke="#4fa84a" stroke-width="1.6"/>
<rect x="387.74" y="837" width="7.25" height="234" fill="#fff" stroke="#4fa84a" stroke-width="1.6"/>
<rect x="401.86" y="853.6" width="7.25" height="217.4" fill="#fff" stroke="#4fa84a" stroke-width="1.6"/>
<rect x="423.03" y="813.1" width="7.25" height="257.9" fill="#fff" stroke="#4fa84a" stroke-width="1.6"/>
<rect x="437.14" y="803.8" width="7.25" height="267.2" fill="#fff" stroke="#4fa84a" stroke-width="1.6"/>
<rect x="458.31" y="771.7" width="7.25" height="299.3" fill="#fff" stroke="#4fa84a" stroke-width="1.6"/>
<rect x="479.48" y="755.2" width="7.25" height="315.8" fill="#fff" stroke="#4fa84a" stroke-width="1.6"/>
<rect x="493.6" y="758.9" width="7.25" height="312.1" fill="#fff" stroke="#4fa84a" stroke-width="1.6"/>
<rect x="514.77" y="739" width="7.25" height="332" fill="#fff" stroke="#4fa84a" stroke-width="1.6"/>
<rect x="528.88" y="799" width="7.25" height="272" fill="#fff" stroke="#4fa84a" stroke-width="1.6"/>
<rect x="543" y="772.4" width="7.25" height="298.6" fill="#fff" stroke="#4fa84a" stroke-width="1.6"/>
<rect x="557.11" y="800.7" width="7.25" height="270.3" fill="#fff" stroke="#4fa84a" stroke-width="1.6"/>
<rect x="571.22" y="742.4" width="7.25" height="328.6" fill="#fff" stroke="#4fa84a" stroke-width="1.6"/>
<rect x="585.34" y="745" width="7.25" height="326" fill="#fff" stroke="#4fa84a" stroke-width="1.6"/>
<rect x="599.45" y="730" width="7.25" height="341" fill="#fff" stroke="#4fa84a" stroke-width="1.6"/>
<rect x="620.62" y="745" width="7.25" height="326" fill="#fff" stroke="#4fa84a" stroke-width="1.6"/>
<rect x="634.74" y="744" width="7.25" height="327" fill="#fff" stroke="#4fa84a" stroke-width="1.6"/>
<rect x="648.85" y="761.4" width="7.25" height="309.6" fill="#fff" stroke="#4fa84a" stroke-width="1.6"/>
<rect x="670.02" y="742.4" width="7.25" height="328.6" fill="#fff" stroke="#4fa84a" stroke-width="1.6"/>
<rect x="684.14" y="760" width="7.25" height="311" fill="#fff" stroke="#4fa84a" stroke-width="1.6"/>
<rect x="705.31" y="767.6" width="7.25" height="303.4" fill="#fff" stroke="#4fa84a" stroke-width="1.6"/>
<rect x="719.42" y="752.7" width="7.25" height="318.3" fill="#fff" stroke="#4fa84a" stroke-width="1.6"/>
<rect x="733.54" y="736.6" width="7.25" height="334.4" fill="#fff" stroke="#4fa84a" stroke-width="1.6"/>
<rect x="747.65" y="747.3" width="7.25" height="323.7" fill="#fff" stroke="#4fa84a" stroke-width="1.6"/>
<rect x="768.82" y="749" width="7.25" height="322" fill="#fff" stroke="#4fa84a" stroke-width="1.6"/>
<rect x="782.93" y="723.5" width="7.25" height="347.5" fill="#fff" stroke="#4fa84a" stroke-width="1.6"/>
<rect x="797.05" y="754.6" width="7.25" height="316.4" fill="#fff" stroke="#4fa84a" stroke-width="1.6"/>
<rect x="811.16" y="736.6" width="7.25" height="334.4" fill="#fff" stroke="#4fa84a" stroke-width="1.6"/>
<rect x="832.33" y="750.6" width="7.25" height="320.4" fill="#fff" stroke="#4fa84a" stroke-width="1.6"/>
<rect x="846.45" y="771.3" width="7.25" height="299.7" fill="#fff" stroke="#4fa84a" stroke-width="1.6"/>
<rect x="867.62" y="772.8" width="7.25" height="298.2" fill="#fff" stroke="#4fa84a" stroke-width="1.6"/>
<rect x="888.79" y="763.9" width="7.25" height="307.1" fill="#fff" stroke="#4fa84a" stroke-width="1.6"/>
<rect x="902.9" y="793" width="7.25" height="278" fill="#fff" stroke="#4fa84a" stroke-width="1.6"/>
<rect x="924.07" y="785.8" width="7.25" height="285.2" fill="#fff" stroke="#4fa84a" stroke-width="1.6"/>
<rect x="938.19" y="821.8" width="7.25" height="249.2" fill="#fff" stroke="#4fa84a" stroke-width="1.6"/>
<rect x="952.3" y="799.7" width="7.25" height="271.3" fill="#fff" stroke="#4fa84a" stroke-width="1.6"/>
<rect x="973.47" y="790.8" width="7.25" height="280.2" fill="#fff" stroke="#4fa84a" stroke-width="1.6"/>
<rect x="987.59" y="802.8" width="7.25" height="268.2" fill="#fff" stroke="#4fa84a" stroke-width="1.6"/>
<rect x="1001.7" y="813.1" width="7.25" height="257.9" fill="#fff" stroke="#4fa84a" stroke-width="1.6"/>
<rect x="1022.87" y="782.5" width="7.25" height="288.5" fill="#fff" stroke="#4fa84a" stroke-width="1.6"/>
<rect x="1036.99" y="793.4" width="7.25" height="277.6" fill="#fff" stroke="#4fa84a" stroke-width="1.6"/>
<rect x="1051.1" y="806.6" width="7.25" height="264.4" fill="#fff" stroke="#4fa84a" stroke-width="1.6"/>
<rect x="1072.27" y="793.9" width="7.25" height="277.1" fill="#fff" stroke="#4fa84a" stroke-width="1.6"/>
<rect x="1086.38" y="790.5" width="7.25" height="280.5" fill="#fff" stroke="#4fa84a" stroke-width="1.6"/>
<rect x="1100.5" y="837.8" width="7.25" height="233.2" fill="#fff" stroke="#4fa84a" stroke-width="1.6"/>
<rect x="1128.73" y="1022.1" width="7.25" height="48.9" fill="#fff" stroke="#4fa84a" stroke-width="1.6"/>
<rect x="1142.84" y="811.2" width="7.25" height="259.8" fill="#fff" stroke="#4fa84a" stroke-width="1.6"/>
<rect x="1156.95" y="767.3" width="7.25" height="303.7" fill="#fff" stroke="#4fa84a" stroke-width="1.6"/>
<rect x="1178.13" y="771.8" width="7.25" height="299.2" fill="#fff" stroke="#4fa84a" stroke-width="1.6"/>
<rect x="1192.24" y="760.9" width="7.25" height="310.1" fill="#fff" stroke="#4fa84a" stroke-width="1.6"/>
<rect x="1213.41" y="825" width="7.25" height="246" fill="#fff" stroke="#4fa84a" stroke-width="1.6"/>
<rect x="1227.52" y="792.8" width="7.25" height="278.2" fill="#fff" stroke="#4fa84a" stroke-width="1.6"/>
<rect x="1241.64" y="770" width="7.25" height="301" fill="#fff" stroke="#4fa84a" stroke-width="1.6"/>
<rect x="1255.75" y="762" width="7.25" height="309" fill="#fff" stroke="#4fa84a" stroke-width="1.6"/>
<rect x="1269.87" y="776.4" width="7.25" height="294.6" fill="#fff" stroke="#4fa84a" stroke-width="1.6"/>
<rect x="1283.98" y="772.3" width="7.25" height="298.7" fill="#fff" stroke="#4fa84a" stroke-width="1.6"/>
<rect x="1298.1" y="759.8" width="7.25" height="311.2" fill="#fff" stroke="#4fa84a" stroke-width="1.6"/>
<rect x="1319.27" y="763.9" width="7.25" height="307.1" fill="#fff" stroke="#4fa84a" stroke-width="1.6"/>
<path d="M179.66 720L193.16 733.5L179.66 747L166.16 733.5Z" fill="#ff2010"/>
<path d="M193.77 715.2L207.27 728.7L193.77 742.2L180.27 728.7Z" fill="#ff2010"/>
<path d="M207.88 724.7L221.38 738.2L207.88 751.7L194.38 738.2Z" fill="#ff2010"/>
<path d="M229.06 760.9L242.56 774.4L229.06 787.9L215.56 774.4Z" fill="#ff2010"/>
<path d="M243.17 734.5L256.67 748L243.17 761.5L229.67 748Z" fill="#ff2010"/>
<path d="M257.28 724.7L270.78 738.2L257.28 751.7L243.78 738.2Z" fill="#ff2010"/>
<path d="M278.45 657.9L291.95 671.4L278.45 684.9L264.95 671.4Z" fill="#ff2010"/>
<path d="M292.57 662.6L306.07 676.1L292.57 689.6L279.07 676.1Z" fill="#ff2010"/>
<path d="M313.74 638.2L327.24 651.7L313.74 665.2L300.24 651.7Z" fill="#ff2010"/>
<path d="M327.85 655.4L341.35 668.9L327.85 682.4L314.35 668.9Z" fill="#ff2010"/>
<path d="M341.97 724.7L355.47 738.2L341.97 751.7L328.47 738.2Z" fill="#ff2010"/>
<path d="M356.08 689.3L369.58 702.8L356.08 716.3L342.58 702.8Z" fill="#ff2010"/>
<path d="M377.25 684.2L390.75 697.7L377.25 711.2L363.75 697.7Z" fill="#ff2010"/>
<path d="M391.37 677.1L404.87 690.6L391.37 704.1L377.87 690.6Z" fill="#ff2010"/>
<path d="M405.48 729.3L418.98 742.8L405.48 756.3L391.98 742.8Z" fill="#ff2010"/>
<path d="M426.65 689.3L440.15 702.8L426.65 716.3L413.15 702.8Z" fill="#ff2010"/>
<path d="M440.77 701.3L454.27 714.8L440.77 728.3L427.27 714.8Z" fill="#ff2010"/>
<path d="M461.94 693.7L475.44 707.2L461.94 720.7L448.44 707.2Z" fill="#ff2010"/>
<path d="M483.11 720L496.61 733.5L483.11 747L469.61 733.5Z" fill="#ff2010"/>
<path d="M497.22 708L510.72 721.5L497.22 735L483.72 721.5Z" fill="#ff2010"/>
<path d="M518.39 758.2L531.89 771.7L518.39 785.2L504.89 771.7Z" fill="#ff2010"/>
<path d="M532.51 770.2L546.01 783.7L532.51 797.2L519.01 783.7Z" fill="#ff2010"/>
<path d="M546.62 710.6L560.12 724.1L546.62 737.6L533.12 724.1Z" fill="#ff2010"/>
<path d="M560.74 763L574.24 776.5L560.74 790L547.24 776.5Z" fill="#ff2010"/>
<path d="M574.85 712.7L588.35 726.2L574.85 739.7L561.35 726.2Z" fill="#ff2010"/>
<path d="M588.96 722L602.46 735.5L588.96 749L575.46 735.5Z" fill="#ff2010"/>
<path d="M603.08 707.5L616.58 721L603.08 734.5L589.58 721Z" fill="#ff2010"/>
<path d="M624.25 731.3L637.75 744.8L624.25 758.3L610.75 744.8Z" fill="#ff2010"/>
<path d="M638.36 667.2L651.86 680.7L638.36 694.2L624.86 680.7Z" fill="#ff2010"/>
<path d="M652.48 727.2L665.98 740.7L652.48 754.2L638.98 740.7Z" fill="#ff2010"/>
<path d="M673.65 708L687.15 721.5L673.65 735L660.15 721.5Z" fill="#ff2010"/>
<path d="M687.76 751L701.26 764.5L687.76 778L674.26 764.5Z" fill="#ff2010"/>
<path d="M708.93 696.2L722.43 709.7L708.93 723.2L695.43 709.7Z" fill="#ff2010"/>
<path d="M723.05 707.5L736.55 721L723.05 734.5L709.55 721Z" fill="#ff2010"/>
<path d="M737.16 669.9L750.66 683.4L737.16 696.9L723.66 683.4Z" fill="#ff2010"/>
<path d="M751.27 722L764.77 735.5L751.27 749L737.77 735.5Z" fill="#ff2010"/>
<path d="M772.45 712.7L785.95 726.2L772.45 739.7L758.95 726.2Z" fill="#ff2010"/>
<path d="M786.56 686.9L800.06 700.4L786.56 713.9L773.06 700.4Z" fill="#ff2010"/>
<path d="M800.67 720L814.17 733.5L800.67 747L787.17 733.5Z" fill="#ff2010"/>
<path d="M814.79 681.7L828.29 695.2L814.79 708.7L801.29 695.2Z" fill="#ff2010"/>
<path d="M835.96 758.2L849.46 771.7L835.96 785.2L822.46 771.7Z" fill="#ff2010"/>
<path d="M850.07 744.8L863.57 758.3L850.07 771.8L836.57 758.3Z" fill="#ff2010"/>
<path d="M871.24 720L884.74 733.5L871.24 747L857.74 733.5Z" fill="#ff2010"/>
<path d="M892.41 736.5L905.91 750L892.41 763.5L878.91 750Z" fill="#ff2010"/>
<path d="M906.53 743.7L920.03 757.2L906.53 770.7L893.03 757.2Z" fill="#ff2010"/>
<path d="M927.7 744.2L941.2 757.7L927.7 771.2L914.2 757.7Z" fill="#ff2010"/>
<path d="M941.81 773.3L955.31 786.8L941.81 800.3L928.31 786.8Z" fill="#ff2010"/>
<path d="M955.93 765.5L969.43 779L955.93 792.5L942.43 779Z" fill="#ff2010"/>
<path d="M977.1 727.2L990.6 740.7L977.1 754.2L963.6 740.7Z" fill="#ff2010"/>
<path d="M991.21 739.6L1004.71 753.1L991.21 766.6L977.71 753.1Z" fill="#ff2010"/>
<path d="M1005.33 772.7L1018.83 786.2L1005.33 799.7L991.83 786.2Z" fill="#ff2010"/>
<path d="M1026.5 734.4L1040 747.9L1026.5 761.4L1013 747.9Z" fill="#ff2010"/>
<path d="M1040.61 765.2L1054.11 778.7L1040.61 792.2L1027.11 778.7Z" fill="#ff2010"/>
<path d="M1054.72 772.7L1068.22 786.2L1054.72 799.7L1041.22 786.2Z" fill="#ff2010"/>
<path d="M1075.9 736.7L1089.4 750.2L1075.9 763.7L1062.4 750.2Z" fill="#ff2010"/>
<path d="M1090.01 712.8L1103.51 726.3L1090.01 739.8L1076.51 726.3Z" fill="#ff2010"/>
<path d="M1104.12 784.5L1117.62 798L1104.12 811.5L1090.62 798Z" fill="#ff2010"/>
<path d="M1132.35 946.2L1145.85 959.7L1132.35 973.2L1118.85 959.7Z" fill="#ff2010"/>
<path d="M1146.47 868.8L1159.97 882.3L1146.47 895.8L1132.97 882.3Z" fill="#ff2010"/>
<path d="M1160.58 813.6L1174.08 827.1L1160.58 840.6L1147.08 827.1Z" fill="#ff2010"/>
<path d="M1181.75 825.5L1195.25 839L1181.75 852.5L1168.25 839Z" fill="#ff2010"/>
<path d="M1195.87 762.9L1209.37 776.4L1195.87 789.9L1182.37 776.4Z" fill="#ff2010"/>
<path d="M1217.04 810.7L1230.54 824.2L1217.04 837.7L1203.54 824.2Z" fill="#ff2010"/>
<path d="M1231.15 803.8L1244.65 817.3L1231.15 830.8L1217.65 817.3Z" fill="#ff2010"/>
<path d="M1245.26 753.8L1258.76 767.3L1245.26 780.8L1231.76 767.3Z" fill="#ff2010"/>
<path d="M1259.38 761.7L1272.88 775.2L1259.38 788.7L1245.88 775.2Z" fill="#ff2010"/>
<path d="M1273.49 784.5L1286.99 798L1273.49 811.5L1259.99 798Z" fill="#ff2010"/>
<path d="M1287.61 799.3L1301.11 812.8L1287.61 826.3L1274.11 812.8Z" fill="#ff2010"/>
<path d="M1301.72 812.9L1315.22 826.4L1301.72 839.9L1288.22 826.4Z" fill="#ff2010"/>
<path d="M1322.89 796.3L1336.39 809.8L1322.89 823.3L1309.39 809.8Z" fill="#ff2010"/>
<path d="M179.66 1016.95L191.61 1028.9L179.66 1040.85L167.71 1028.9Z" fill="#fff" stroke="#ff2010" stroke-width="3.1" stroke-linejoin="round"/>
<path d="M193.77 1005.75L205.72 1017.7L193.77 1029.65L181.82 1017.7Z" fill="#fff" stroke="#ff2010" stroke-width="3.1" stroke-linejoin="round"/>
<path d="M207.88 1018.55L219.83 1030.5L207.88 1042.45L195.94 1030.5Z" fill="#fff" stroke="#ff2010" stroke-width="3.1" stroke-linejoin="round"/>
<path d="M229.06 1023.15L241.01 1035.1L229.06 1047.05L217.11 1035.1Z" fill="#fff" stroke="#ff2010" stroke-width="3.1" stroke-linejoin="round"/>
<path d="M243.17 1018.55L255.12 1030.5L243.17 1042.45L231.22 1030.5Z" fill="#fff" stroke="#ff2010" stroke-width="3.1" stroke-linejoin="round"/>
<path d="M257.28 1018.55L269.23 1030.5L257.28 1042.45L245.33 1030.5Z" fill="#fff" stroke="#ff2010" stroke-width="3.1" stroke-linejoin="round"/>
<path d="M278.45 1007.85L290.4 1019.8L278.45 1031.75L266.5 1019.8Z" fill="#fff" stroke="#ff2010" stroke-width="3.1" stroke-linejoin="round"/>
<path d="M292.57 975.15L304.52 987.1L292.57 999.05L280.62 987.1Z" fill="#fff" stroke="#ff2010" stroke-width="3.1" stroke-linejoin="round"/>
<path d="M313.74 911.65L325.69 923.6L313.74 935.55L301.79 923.6Z" fill="#fff" stroke="#ff2010" stroke-width="3.1" stroke-linejoin="round"/>
<path d="M327.85 908.55L339.8 920.5L327.85 932.45L315.9 920.5Z" fill="#fff" stroke="#ff2010" stroke-width="3.1" stroke-linejoin="round"/>
<path d="M341.97 907.85L353.92 919.8L341.97 931.75L330.02 919.8Z" fill="#fff" stroke="#ff2010" stroke-width="3.1" stroke-linejoin="round"/>
<path d="M356.08 902.75L368.03 914.7L356.08 926.65L344.13 914.7Z" fill="#fff" stroke="#ff2010" stroke-width="3.1" stroke-linejoin="round"/>
<path d="M377.25 880.55L389.2 892.5L377.25 904.45L365.3 892.5Z" fill="#fff" stroke="#ff2010" stroke-width="3.1" stroke-linejoin="round"/>
<path d="M391.37 869.65L403.32 881.6L391.37 893.55L379.42 881.6Z" fill="#fff" stroke="#ff2010" stroke-width="3.1" stroke-linejoin="round"/>
<path d="M405.48 884.05L417.43 896L405.48 907.95L393.53 896Z" fill="#fff" stroke="#ff2010" stroke-width="3.1" stroke-linejoin="round"/>
<path d="M426.65 894.45L438.6 906.4L426.65 918.35L414.7 906.4Z" fill="#fff" stroke="#ff2010" stroke-width="3.1" stroke-linejoin="round"/>
<path d="M440.77 905.85L452.72 917.8L440.77 929.75L428.82 917.8Z" fill="#fff" stroke="#ff2010" stroke-width="3.1" stroke-linejoin="round"/>
<path d="M461.94 928.55L473.89 940.5L461.94 952.45L449.99 940.5Z" fill="#fff" stroke="#ff2010" stroke-width="3.1" stroke-linejoin="round"/>
<path d="M483.11 950.25L495.06 962.2L483.11 974.15L471.16 962.2Z" fill="#fff" stroke="#ff2010" stroke-width="3.1" stroke-linejoin="round"/>
<path d="M497.22 943.45L509.17 955.4L497.22 967.35L485.27 955.4Z" fill="#fff" stroke="#ff2010" stroke-width="3.1" stroke-linejoin="round"/>
<path d="M518.39 973.05L530.34 985L518.39 996.95L506.44 985Z" fill="#fff" stroke="#ff2010" stroke-width="3.1" stroke-linejoin="round"/>
<path d="M532.51 939.95L544.46 951.9L532.51 963.85L520.56 951.9Z" fill="#fff" stroke="#ff2010" stroke-width="3.1" stroke-linejoin="round"/>
<path d="M546.62 934.75L558.57 946.7L546.62 958.65L534.67 946.7Z" fill="#fff" stroke="#ff2010" stroke-width="3.1" stroke-linejoin="round"/>
<path d="M560.74 935.85L572.69 947.8L560.74 959.75L548.78 947.8Z" fill="#fff" stroke="#ff2010" stroke-width="3.1" stroke-linejoin="round"/>
<path d="M574.85 957.55L586.8 969.5L574.85 981.45L562.9 969.5Z" fill="#fff" stroke="#ff2010" stroke-width="3.1" stroke-linejoin="round"/>
<path d="M588.96 964.35L600.91 976.3L588.96 988.25L577.01 976.3Z" fill="#fff" stroke="#ff2010" stroke-width="3.1" stroke-linejoin="round"/>
<path d="M603.08 968.95L615.03 980.9L603.08 992.85L591.13 980.9Z" fill="#fff" stroke="#ff2010" stroke-width="3.1" stroke-linejoin="round"/>
<path d="M624.25 955.45L636.2 967.4L624.25 979.35L612.3 967.4Z" fill="#fff" stroke="#ff2010" stroke-width="3.1" stroke-linejoin="round"/>
<path d="M638.36 942.05L650.31 954L638.36 965.95L626.41 954Z" fill="#fff" stroke="#ff2010" stroke-width="3.1" stroke-linejoin="round"/>
<path d="M652.48 948.25L664.43 960.2L652.48 972.15L640.53 960.2Z" fill="#fff" stroke="#ff2010" stroke-width="3.1" stroke-linejoin="round"/>
<path d="M673.65 955.45L685.6 967.4L673.65 979.35L661.7 967.4Z" fill="#fff" stroke="#ff2010" stroke-width="3.1" stroke-linejoin="round"/>
<path d="M687.76 948.85L699.71 960.8L687.76 972.75L675.81 960.8Z" fill="#fff" stroke="#ff2010" stroke-width="3.1" stroke-linejoin="round"/>
<path d="M708.93 932.25L720.88 944.2L708.93 956.15L696.98 944.2Z" fill="#fff" stroke="#ff2010" stroke-width="3.1" stroke-linejoin="round"/>
<path d="M723.05 948.25L735 960.2L723.05 972.15L711.1 960.2Z" fill="#fff" stroke="#ff2010" stroke-width="3.1" stroke-linejoin="round"/>
<path d="M737.16 949.25L749.11 961.2L737.16 973.15L725.21 961.2Z" fill="#fff" stroke="#ff2010" stroke-width="3.1" stroke-linejoin="round"/>
<path d="M751.27 960.65L763.22 972.6L751.27 984.55L739.32 972.6Z" fill="#fff" stroke="#ff2010" stroke-width="3.1" stroke-linejoin="round"/>
<path d="M772.45 952.35L784.4 964.3L772.45 976.25L760.5 964.3Z" fill="#fff" stroke="#ff2010" stroke-width="3.1" stroke-linejoin="round"/>
<path d="M786.56 964.75L798.51 976.7L786.56 988.65L774.61 976.7Z" fill="#fff" stroke="#ff2010" stroke-width="3.1" stroke-linejoin="round"/>
<path d="M800.67 949.65L812.62 961.6L800.67 973.55L788.72 961.6Z" fill="#fff" stroke="#ff2010" stroke-width="3.1" stroke-linejoin="round"/>
<path d="M814.79 952.35L826.74 964.3L814.79 976.25L802.84 964.3Z" fill="#fff" stroke="#ff2010" stroke-width="3.1" stroke-linejoin="round"/>
<path d="M835.96 965.45L847.91 977.4L835.96 989.35L824.01 977.4Z" fill="#fff" stroke="#ff2010" stroke-width="3.1" stroke-linejoin="round"/>
<path d="M850.07 946.75L862.02 958.7L850.07 970.65L838.12 958.7Z" fill="#fff" stroke="#ff2010" stroke-width="3.1" stroke-linejoin="round"/>
<path d="M871.24 937.45L883.19 949.4L871.24 961.35L859.29 949.4Z" fill="#fff" stroke="#ff2010" stroke-width="3.1" stroke-linejoin="round"/>
<path d="M892.41 949.85L904.36 961.8L892.41 973.75L880.46 961.8Z" fill="#fff" stroke="#ff2010" stroke-width="3.1" stroke-linejoin="round"/>
<path d="M906.53 932.75L918.48 944.7L906.53 956.65L894.58 944.7Z" fill="#fff" stroke="#ff2010" stroke-width="3.1" stroke-linejoin="round"/>
<path d="M927.7 937.45L939.65 949.4L927.7 961.35L915.75 949.4Z" fill="#fff" stroke="#ff2010" stroke-width="3.1" stroke-linejoin="round"/>
<path d="M941.81 926.55L953.76 938.5L941.81 950.45L929.86 938.5Z" fill="#fff" stroke="#ff2010" stroke-width="3.1" stroke-linejoin="round"/>
<path d="M955.93 937.45L967.88 949.4L955.93 961.35L943.98 949.4Z" fill="#fff" stroke="#ff2010" stroke-width="3.1" stroke-linejoin="round"/>
<path d="M977.1 927.55L989.05 939.5L977.1 951.45L965.15 939.5Z" fill="#fff" stroke="#ff2010" stroke-width="3.1" stroke-linejoin="round"/>
<path d="M991.21 924.05L1003.16 936L991.21 947.95L979.26 936Z" fill="#fff" stroke="#ff2010" stroke-width="3.1" stroke-linejoin="round"/>
<path d="M1005.33 932.25L1017.28 944.2L1005.33 956.15L993.38 944.2Z" fill="#fff" stroke="#ff2010" stroke-width="3.1" stroke-linejoin="round"/>
<path d="M1026.5 935.25L1038.45 947.2L1026.5 959.15L1014.55 947.2Z" fill="#fff" stroke="#ff2010" stroke-width="3.1" stroke-linejoin="round"/>
<path d="M1040.61 941.35L1052.56 953.3L1040.61 965.25L1028.66 953.3Z" fill="#fff" stroke="#ff2010" stroke-width="3.1" stroke-linejoin="round"/>
<path d="M1054.72 935.75L1066.67 947.7L1054.72 959.65L1042.77 947.7Z" fill="#fff" stroke="#ff2010" stroke-width="3.1" stroke-linejoin="round"/>
<path d="M1075.9 928.85L1087.85 940.8L1075.9 952.75L1063.95 940.8Z" fill="#fff" stroke="#ff2010" stroke-width="3.1" stroke-linejoin="round"/>
<path d="M1090.01 922.55L1101.96 934.5L1090.01 946.45L1078.06 934.5Z" fill="#fff" stroke="#ff2010" stroke-width="3.1" stroke-linejoin="round"/>
<path d="M1104.12 923.15L1116.07 935.1L1104.12 947.05L1092.17 935.1Z" fill="#fff" stroke="#ff2010" stroke-width="3.1" stroke-linejoin="round"/>
<path d="M1132.35 961.85L1144.3 973.8L1132.35 985.75L1120.4 973.8Z" fill="#fff" stroke="#ff2010" stroke-width="3.1" stroke-linejoin="round"/>
<path d="M1146.47 976.65L1158.42 988.6L1146.47 1000.55L1134.52 988.6Z" fill="#fff" stroke="#ff2010" stroke-width="3.1" stroke-linejoin="round"/>
<path d="M1160.58 974.35L1172.53 986.3L1160.58 998.25L1148.63 986.3Z" fill="#fff" stroke="#ff2010" stroke-width="3.1" stroke-linejoin="round"/>
<path d="M1181.75 976.25L1193.7 988.2L1181.75 1000.15L1169.8 988.2Z" fill="#fff" stroke="#ff2010" stroke-width="3.1" stroke-linejoin="round"/>
<path d="M1195.87 960.25L1207.82 972.2L1195.87 984.15L1183.91 972.2Z" fill="#fff" stroke="#ff2010" stroke-width="3.1" stroke-linejoin="round"/>
<path d="M1217.04 945.25L1228.99 957.2L1217.04 969.15L1205.09 957.2Z" fill="#fff" stroke="#ff2010" stroke-width="3.1" stroke-linejoin="round"/>
<path d="M1231.15 957.35L1243.1 969.3L1231.15 981.25L1219.2 969.3Z" fill="#fff" stroke="#ff2010" stroke-width="3.1" stroke-linejoin="round"/>
<path d="M1245.26 948.95L1257.21 960.9L1245.26 972.85L1233.31 960.9Z" fill="#fff" stroke="#ff2010" stroke-width="3.1" stroke-linejoin="round"/>
<path d="M1259.38 959.55L1271.33 971.5L1259.38 983.45L1247.43 971.5Z" fill="#fff" stroke="#ff2010" stroke-width="3.1" stroke-linejoin="round"/>
<path d="M1273.49 958.45L1285.44 970.4L1273.49 982.35L1261.54 970.4Z" fill="#fff" stroke="#ff2010" stroke-width="3.1" stroke-linejoin="round"/>
<path d="M1287.61 966.45L1299.56 978.4L1287.61 990.35L1275.66 978.4Z" fill="#fff" stroke="#ff2010" stroke-width="3.1" stroke-linejoin="round"/>
<path d="M1301.72 978.45L1313.67 990.4L1301.72 1002.35L1289.77 990.4Z" fill="#fff" stroke="#ff2010" stroke-width="3.1" stroke-linejoin="round"/>
<path d="M1322.89 969.85L1334.84 981.8L1322.89 993.75L1310.94 981.8Z" fill="#fff" stroke="#ff2010" stroke-width="3.1" stroke-linejoin="round"/>
<line x1="266.5" y1="604.3" x2="266.5" y2="1071" stroke="#444" stroke-width="2.2" stroke-dasharray="18.7 8.1"/>
<line x1="727.6" y1="604.3" x2="727.6" y2="1071" stroke="#444" stroke-width="2.2" stroke-dasharray="18.7 8.1"/>
<rect x="158.3" y="603.8" width="1186.2" height="467.2" fill="none" stroke="#000" stroke-width="3.3"/>
<line x1="145.5" y1="1071.3" x2="158.3" y2="1071.3" stroke="#000" stroke-width="3.0"/>
<line x1="145.5" y1="986.2" x2="158.3" y2="986.2" stroke="#000" stroke-width="3.0"/>
<line x1="145.5" y1="901.1" x2="158.3" y2="901.1" stroke="#000" stroke-width="3.0"/>
<line x1="145.5" y1="816" x2="158.3" y2="816" stroke="#000" stroke-width="3.0"/>
<line x1="145.5" y1="730.9" x2="158.3" y2="730.9" stroke="#000" stroke-width="3.0"/>
<line x1="145.5" y1="645.8" x2="158.3" y2="645.8" stroke="#000" stroke-width="3.0"/>
<line x1="152.3" y1="1028.75" x2="158.3" y2="1028.75" stroke="#000" stroke-width="3.0"/>
<line x1="152.3" y1="943.65" x2="158.3" y2="943.65" stroke="#000" stroke-width="3.0"/>
<line x1="152.3" y1="858.55" x2="158.3" y2="858.55" stroke="#000" stroke-width="3.0"/>
<line x1="152.3" y1="773.45" x2="158.3" y2="773.45" stroke="#000" stroke-width="3.0"/>
<line x1="152.3" y1="688.35" x2="158.3" y2="688.35" stroke="#000" stroke-width="3.0"/>
<text x="135.5" y="1080.02" font-size="30.5" text-anchor="end" font-family="Liberation Sans, sans-serif" >0</text>
<text x="135.5" y="994.92" font-size="30.5" text-anchor="end" font-family="Liberation Sans, sans-serif" >50</text>
<text x="135.5" y="909.82" font-size="30.5" text-anchor="end" font-family="Liberation Sans, sans-serif" >100</text>
<text x="135.5" y="824.72" font-size="30.5" text-anchor="end" font-family="Liberation Sans, sans-serif" >150</text>
<text x="135.5" y="739.62" font-size="30.5" text-anchor="end" font-family="Liberation Sans, sans-serif" >200</text>
<text x="135.5" y="654.52" font-size="30.5" text-anchor="end" font-family="Liberation Sans, sans-serif" >250</text>
<line x1="1332" y1="1070.6" x2="1344.5" y2="1070.6" stroke="#000" stroke-width="3.0"/>
<line x1="1332" y1="977.06" x2="1344.5" y2="977.06" stroke="#000" stroke-width="3.0"/>
<line x1="1332" y1="883.52" x2="1344.5" y2="883.52" stroke="#000" stroke-width="3.0"/>
<line x1="1332" y1="789.98" x2="1344.5" y2="789.98" stroke="#000" stroke-width="3.0"/>
<line x1="1332" y1="696.44" x2="1344.5" y2="696.44" stroke="#000" stroke-width="3.0"/>
<line x1="1332" y1="602.9" x2="1344.5" y2="602.9" stroke="#000" stroke-width="3.0"/>
<line x1="1338.5" y1="1023.83" x2="1344.5" y2="1023.83" stroke="#000" stroke-width="3.0"/>
<line x1="1338.5" y1="930.29" x2="1344.5" y2="930.29" stroke="#000" stroke-width="3.0"/>
<line x1="1338.5" y1="836.75" x2="1344.5" y2="836.75" stroke="#000" stroke-width="3.0"/>
<line x1="1338.5" y1="743.21" x2="1344.5" y2="743.21" stroke="#000" stroke-width="3.0"/>
<line x1="1338.5" y1="649.67" x2="1344.5" y2="649.67" stroke="#000" stroke-width="3.0"/>
<text x="1359.5" y="1079.32" font-size="30.5" text-anchor="start" font-family="Liberation Sans, sans-serif" >0</text>
<text x="1359.5" y="985.78" font-size="30.5" text-anchor="start" font-family="Liberation Sans, sans-serif" >20</text>
<text x="1359.5" y="892.24" font-size="30.5" text-anchor="start" font-family="Liberation Sans, sans-serif" >40</text>
<text x="1359.5" y="798.7" font-size="30.5" text-anchor="start" font-family="Liberation Sans, sans-serif" >60</text>
<text x="1359.5" y="705.16" font-size="30.5" text-anchor="start" font-family="Liberation Sans, sans-serif" >80</text>
<text x="1359.5" y="611.62" font-size="30.5" text-anchor="start" font-family="Liberation Sans, sans-serif" >100</text>
<line x1="172.6" y1="1071" x2="172.6" y2="1083.3" stroke="#000" stroke-width="3.0"/>
<line x1="454.88" y1="1071" x2="454.88" y2="1083.3" stroke="#000" stroke-width="3.0"/>
<line x1="737.16" y1="1071" x2="737.16" y2="1083.3" stroke="#000" stroke-width="3.0"/>
<line x1="1019.44" y1="1071" x2="1019.44" y2="1083.3" stroke="#000" stroke-width="3.0"/>
<line x1="1301.72" y1="1071" x2="1301.72" y2="1083.3" stroke="#000" stroke-width="3.0"/>
<line x1="313.74" y1="1071" x2="313.74" y2="1077.3" stroke="#000" stroke-width="3.0"/>
<line x1="596.02" y1="1071" x2="596.02" y2="1077.3" stroke="#000" stroke-width="3.0"/>
<line x1="878.3" y1="1071" x2="878.3" y2="1077.3" stroke="#000" stroke-width="3.0"/>
<line x1="1160.58" y1="1071" x2="1160.58" y2="1077.3" stroke="#000" stroke-width="3.0"/>
<path d="M482.4 614.8L495.9 628.3L482.4 641.8L468.9 628.3Z" fill="#ff2010"/>
<text x="525.2" y="638.3" font-size="30.5" text-anchor="start" font-family="Liberation Sans, sans-serif" >Inf. COD</text>
<path d="M684.1 616.5L695.9 628.3L684.1 640.1L672.3 628.3Z" fill="#fff" stroke="#ff2010" stroke-width="2.9" stroke-linejoin="round"/>
<text x="726.8" y="638.3" font-size="30.5" text-anchor="start" font-family="Liberation Sans, sans-serif" >Eff. COD</text>
<rect x="869.6" y="623.9" width="40.4" height="9.6" fill="#fff" stroke="#4fa84a" stroke-width="1.5"/>
<text x="931.8" y="638.3" font-size="30.5" text-anchor="start" font-family="Liberation Sans, sans-serif" >Re-COD<tspan font-size="21.3" dy="8">PN</tspan></text>
<text transform="translate(72.8 838) rotate(-90)" font-size="30.5" text-anchor="middle" font-family="Liberation Sans, sans-serif">COD (mg L<tspan font-size="21.3" dy="-13">-1</tspan><tspan dy="13">)</tspan></text>
<text transform="translate(1428.3 837) rotate(-90)" font-size="30.5" text-anchor="middle" font-family="Liberation Sans, sans-serif">Re-COD<tspan font-size="21.3" dy="8">PN</tspan><tspan dy="-8"> (%)</tspan></text>
<text x="-0.8" y="628.8" font-size="48" text-anchor="start" font-family="Liberation Sans, sans-serif" font-weight="bold">b</text>
<rect x="178.23" y="1601.7" width="7.25" height="3.6" fill="#fff" stroke="#b48ee0" stroke-width="1.5"/>
<rect x="192.33" y="1603.5" width="7.25" height="1.8" fill="#fff" stroke="#b48ee0" stroke-width="1.5"/>
<rect x="227.6" y="1603.5" width="7.25" height="1.8" fill="#fff" stroke="#b48ee0" stroke-width="1.5"/>
<rect x="241.71" y="1603.5" width="7.25" height="1.8" fill="#fff" stroke="#b48ee0" stroke-width="1.5"/>
<rect x="276.97" y="1496.6" width="7.25" height="108.7" fill="#fff" stroke="#b48ee0" stroke-width="1.5"/>
<rect x="291.08" y="1392.7" width="7.25" height="212.6" fill="#fff" stroke="#b48ee0" stroke-width="1.5"/>
<rect x="312.24" y="1232.4" width="7.25" height="372.9" fill="#fff" stroke="#b48ee0" stroke-width="1.5"/>
<rect x="326.34" y="1211.7" width="7.25" height="393.6" fill="#fff" stroke="#b48ee0" stroke-width="1.5"/>
<rect x="340.45" y="1180.7" width="7.25" height="424.6" fill="#fff" stroke="#b48ee0" stroke-width="1.5"/>
<rect x="354.55" y="1183.8" width="7.25" height="421.5" fill="#fff" stroke="#b48ee0" stroke-width="1.5"/>
<rect x="375.71" y="1261.8" width="7.25" height="343.5" fill="#fff" stroke="#b48ee0" stroke-width="1.5"/>
<rect x="389.82" y="1280" width="7.25" height="325.3" fill="#fff" stroke="#b48ee0" stroke-width="1.5"/>
<rect x="403.92" y="1219.4" width="7.25" height="385.9" fill="#fff" stroke="#b48ee0" stroke-width="1.5"/>
<rect x="425.08" y="1201.8" width="7.25" height="403.5" fill="#fff" stroke="#b48ee0" stroke-width="1.5"/>
<rect x="439.19" y="1259.9" width="7.25" height="345.4" fill="#fff" stroke="#b48ee0" stroke-width="1.5"/>
<rect x="460.35" y="1214.4" width="7.25" height="390.9" fill="#fff" stroke="#b48ee0" stroke-width="1.5"/>
<rect x="481.51" y="1252.1" width="7.25" height="353.2" fill="#fff" stroke="#b48ee0" stroke-width="1.5"/>
<rect x="495.61" y="1216.3" width="7.25" height="389" fill="#fff" stroke="#b48ee0" stroke-width="1.5"/>
<rect x="516.77" y="1216.3" width="7.25" height="389" fill="#fff" stroke="#b48ee0" stroke-width="1.5"/>
<rect x="530.88" y="1222.7" width="7.25" height="382.6" fill="#fff" stroke="#b48ee0" stroke-width="1.5"/>
<rect x="544.98" y="1217.5" width="7.25" height="387.8" fill="#fff" stroke="#b48ee0" stroke-width="1.5"/>
<rect x="559.09" y="1210.3" width="7.25" height="395" fill="#fff" stroke="#b48ee0" stroke-width="1.5"/>
<rect x="573.2" y="1208.6" width="7.25" height="396.7" fill="#fff" stroke="#b48ee0" stroke-width="1.5"/>
<rect x="587.3" y="1203.5" width="7.25" height="401.8" fill="#fff" stroke="#b48ee0" stroke-width="1.5"/>
<rect x="601.41" y="1195.2" width="7.25" height="410.1" fill="#fff" stroke="#b48ee0" stroke-width="1.5"/>
<rect x="622.57" y="1176.6" width="7.25" height="428.7" fill="#fff" stroke="#b48ee0" stroke-width="1.5"/>
<rect x="636.67" y="1228.9" width="7.25" height="376.4" fill="#fff" stroke="#b48ee0" stroke-width="1.5"/>
<rect x="650.78" y="1226.6" width="7.25" height="378.7" fill="#fff" stroke="#b48ee0" stroke-width="1.5"/>
<rect x="671.94" y="1223.5" width="7.25" height="381.8" fill="#fff" stroke="#b48ee0" stroke-width="1.5"/>
<rect x="686.04" y="1224.8" width="7.25" height="380.5" fill="#fff" stroke="#b48ee0" stroke-width="1.5"/>
<rect x="707.2" y="1206.6" width="7.25" height="398.7" fill="#fff" stroke="#b48ee0" stroke-width="1.5"/>
<rect x="721.31" y="1205.1" width="7.25" height="400.2" fill="#fff" stroke="#b48ee0" stroke-width="1.5"/>
<rect x="735.41" y="1232" width="7.25" height="373.3" fill="#fff" stroke="#b48ee0" stroke-width="1.5"/>
<rect x="749.52" y="1230.4" width="7.25" height="374.9" fill="#fff" stroke="#b48ee0" stroke-width="1.5"/>
<rect x="770.68" y="1208.6" width="7.25" height="396.7" fill="#fff" stroke="#b48ee0" stroke-width="1.5"/>
<rect x="784.79" y="1198.3" width="7.25" height="407" fill="#fff" stroke="#b48ee0" stroke-width="1.5"/>
<rect x="798.89" y="1204.5" width="7.25" height="400.8" fill="#fff" stroke="#b48ee0" stroke-width="1.5"/>
<rect x="813" y="1195.6" width="7.25" height="409.7" fill="#fff" stroke="#b48ee0" stroke-width="1.5"/>
<rect x="834.16" y="1186.5" width="7.25" height="418.8" fill="#fff" stroke="#b48ee0" stroke-width="1.5"/>
<rect x="848.26" y="1210.7" width="7.25" height="394.6" fill="#fff" stroke="#b48ee0" stroke-width="1.5"/>
<rect x="869.42" y="1184.8" width="7.25" height="420.5" fill="#fff" stroke="#b48ee0" stroke-width="1.5"/>
<rect x="890.58" y="1202.8" width="7.25" height="402.5" fill="#fff" stroke="#b48ee0" stroke-width="1.5"/>
<rect x="904.69" y="1207" width="7.25" height="398.3" fill="#fff" stroke="#b48ee0" stroke-width="1.5"/>
<rect x="925.85" y="1210.3" width="7.25" height="395" fill="#fff" stroke="#b48ee0" stroke-width="1.5"/>
<rect x="939.95" y="1193.7" width="7.25" height="411.6" fill="#fff" stroke="#b48ee0" stroke-width="1.5"/>
<rect x="954.06" y="1189" width="7.25" height="416.3" fill="#fff" stroke="#b48ee0" stroke-width="1.5"/>
<rect x="975.22" y="1167.2" width="7.25" height="438.1" fill="#fff" stroke="#b48ee0" stroke-width="1.5"/>
<rect x="989.32" y="1209.2" width="7.25" height="396.1" fill="#fff" stroke="#b48ee0" stroke-width="1.5"/>
<rect x="1003.43" y="1196.6" width="7.25" height="408.7" fill="#fff" stroke="#b48ee0" stroke-width="1.5"/>
<rect x="1024.59" y="1188.6" width="7.25" height="416.7" fill="#fff" stroke="#b48ee0" stroke-width="1.5"/>
<rect x="1038.69" y="1197.8" width="7.25" height="407.5" fill="#fff" stroke="#b48ee0" stroke-width="1.5"/>
<rect x="1052.8" y="1184.6" width="7.25" height="420.7" fill="#fff" stroke="#b48ee0" stroke-width="1.5"/>
<rect x="1073.96" y="1177.3" width="7.25" height="428" fill="#fff" stroke="#b48ee0" stroke-width="1.5"/>
<rect x="1088.07" y="1173.2" width="7.25" height="432.1" fill="#fff" stroke="#b48ee0" stroke-width="1.5"/>
<rect x="1102.17" y="1217.6" width="7.25" height="387.7" fill="#fff" stroke="#b48ee0" stroke-width="1.5"/>
<rect x="1130.38" y="1210.1" width="7.25" height="395.2" fill="#fff" stroke="#b48ee0" stroke-width="1.5"/>
<rect x="1144.49" y="1183.5" width="7.25" height="421.8" fill="#fff" stroke="#b48ee0" stroke-width="1.5"/>
<rect x="1158.6" y="1165.3" width="7.25" height="440" fill="#fff" stroke="#b48ee0" stroke-width="1.5"/>
<rect x="1179.75" y="1195.3" width="7.25" height="410" fill="#fff" stroke="#b48ee0" stroke-width="1.5"/>
<rect x="1193.86" y="1178.5" width="7.25" height="426.8" fill="#fff" stroke="#b48ee0" stroke-width="1.5"/>
<rect x="1215.02" y="1154.4" width="7.25" height="450.9" fill="#fff" stroke="#b48ee0" stroke-width="1.5"/>
<rect x="1229.12" y="1143.7" width="7.25" height="461.6" fill="#fff" stroke="#b48ee0" stroke-width="1.5"/>
<rect x="1243.23" y="1214.9" width="7.25" height="390.4" fill="#fff" stroke="#b48ee0" stroke-width="1.5"/>
<rect x="1257.34" y="1194.2" width="7.25" height="411.1" fill="#fff" stroke="#b48ee0" stroke-width="1.5"/>
<rect x="1271.44" y="1193.3" width="7.25" height="412" fill="#fff" stroke="#b48ee0" stroke-width="1.5"/>
<rect x="1285.55" y="1214.9" width="7.25" height="390.4" fill="#fff" stroke="#b48ee0" stroke-width="1.5"/>
<rect x="1299.65" y="1207.4" width="7.25" height="397.9" fill="#fff" stroke="#b48ee0" stroke-width="1.5"/>
<rect x="1320.81" y="1197.1" width="7.25" height="408.2" fill="#fff" stroke="#b48ee0" stroke-width="1.5"/>
<polyline points="181.85,1400.79 365.23,1400.79 372.28,1342.33 400.5,1342.33 407.55,1283.87 471.03,1283.87 478.08,1166.95 724.93,1166.95 731.99,1225.41 781.36,1225.41 788.41,1342.33 823.68,1342.33 830.73,1400.79 1119.9,1400.79 1126.95,1430.02 1183.38,1430.02 1190.43,1459.25 1239.8,1459.25 1246.86,1447.56 1324.44,1447.56" fill="none" stroke="#2e8b1e" stroke-width="3.8" stroke-linejoin="miter" stroke-linecap="round"/>
<path d="M181.85 1313.25L191.95 1320.55L188.1 1332.35L175.61 1332.35L171.75 1320.55Z" fill="#fff" stroke="#3a7fb6" stroke-width="2.8" stroke-linejoin="round"/>
<path d="M195.96 1332.55L206.06 1339.85L202.2 1351.65L189.72 1351.65L185.86 1339.85Z" fill="#fff" stroke="#3a7fb6" stroke-width="2.8" stroke-linejoin="round"/>
<path d="M210.06 1358.45L220.16 1365.75L216.31 1377.55L203.82 1377.55L199.97 1365.75Z" fill="#fff" stroke="#3a7fb6" stroke-width="2.8" stroke-linejoin="round"/>
<path d="M231.22 1339.75L241.32 1347.05L237.47 1358.85L224.98 1358.85L221.12 1347.05Z" fill="#fff" stroke="#3a7fb6" stroke-width="2.8" stroke-linejoin="round"/>
<path d="M245.33 1331.95L255.43 1339.25L251.57 1351.05L239.09 1351.05L235.23 1339.25Z" fill="#fff" stroke="#3a7fb6" stroke-width="2.8" stroke-linejoin="round"/>
<path d="M259.44 1344.35L269.54 1351.65L265.68 1363.45L253.19 1363.45L249.34 1351.65Z" fill="#fff" stroke="#3a7fb6" stroke-width="2.8" stroke-linejoin="round"/>
<path d="M280.6 1269.85L290.7 1277.15L286.84 1288.95L274.35 1288.95L270.5 1277.15Z" fill="#fff" stroke="#3a7fb6" stroke-width="2.8" stroke-linejoin="round"/>
<path d="M294.7 1280.15L304.8 1287.45L300.94 1299.25L288.46 1299.25L284.6 1287.45Z" fill="#fff" stroke="#3a7fb6" stroke-width="2.8" stroke-linejoin="round"/>
<path d="M315.86 1247.05L325.96 1254.35L322.1 1266.15L309.62 1266.15L305.76 1254.35Z" fill="#fff" stroke="#3a7fb6" stroke-width="2.8" stroke-linejoin="round"/>
<path d="M329.97 1261.55L340.07 1268.85L336.21 1280.65L323.72 1280.65L319.87 1268.85Z" fill="#fff" stroke="#3a7fb6" stroke-width="2.8" stroke-linejoin="round"/>
<path d="M344.07 1290.15L354.17 1297.45L350.31 1309.25L337.83 1309.25L333.97 1297.45Z" fill="#fff" stroke="#3a7fb6" stroke-width="2.8" stroke-linejoin="round"/>
<path d="M358.18 1300.85L368.28 1308.15L364.42 1319.95L351.94 1319.95L348.08 1308.15Z" fill="#fff" stroke="#3a7fb6" stroke-width="2.8" stroke-linejoin="round"/>
<path d="M379.34 1271.45L389.44 1278.75L385.58 1290.55L373.09 1290.55L369.24 1278.75Z" fill="#fff" stroke="#3a7fb6" stroke-width="2.8" stroke-linejoin="round"/>
<path d="M393.44 1306.65L403.54 1313.95L399.69 1325.75L387.2 1325.75L383.34 1313.95Z" fill="#fff" stroke="#3a7fb6" stroke-width="2.8" stroke-linejoin="round"/>
<path d="M407.55 1359.45L417.65 1366.75L413.79 1378.55L401.31 1378.55L397.45 1366.75Z" fill="#fff" stroke="#3a7fb6" stroke-width="2.8" stroke-linejoin="round"/>
<path d="M428.71 1327.35L438.81 1334.65L434.95 1346.45L422.47 1346.45L418.61 1334.65Z" fill="#fff" stroke="#3a7fb6" stroke-width="2.8" stroke-linejoin="round"/>
<path d="M442.81 1318.05L452.91 1325.35L449.06 1337.15L436.57 1337.15L432.71 1325.35Z" fill="#fff" stroke="#3a7fb6" stroke-width="2.8" stroke-linejoin="round"/>
<path d="M463.97 1329.45L474.07 1336.75L470.22 1348.55L457.73 1348.55L453.87 1336.75Z" fill="#fff" stroke="#3a7fb6" stroke-width="2.8" stroke-linejoin="round"/>
<path d="M485.13 1334.65L495.23 1341.95L491.37 1353.75L478.89 1353.75L475.03 1341.95Z" fill="#fff" stroke="#3a7fb6" stroke-width="2.8" stroke-linejoin="round"/>
<path d="M499.24 1283.25L509.34 1290.55L505.48 1302.35L493 1302.35L489.14 1290.55Z" fill="#fff" stroke="#3a7fb6" stroke-width="2.8" stroke-linejoin="round"/>
<path d="M520.4 1265.25L530.5 1272.55L526.64 1284.35L514.15 1284.35L510.3 1272.55Z" fill="#fff" stroke="#3a7fb6" stroke-width="2.8" stroke-linejoin="round"/>
<path d="M534.5 1284.55L544.6 1291.85L540.75 1303.65L528.26 1303.65L524.4 1291.85Z" fill="#fff" stroke="#3a7fb6" stroke-width="2.8" stroke-linejoin="round"/>
<path d="M548.61 1288.05L558.71 1295.35L554.85 1307.15L542.37 1307.15L538.51 1295.35Z" fill="#fff" stroke="#3a7fb6" stroke-width="2.8" stroke-linejoin="round"/>
<path d="M562.72 1340.15L572.82 1347.45L568.96 1359.25L556.47 1359.25L552.62 1347.45Z" fill="#fff" stroke="#3a7fb6" stroke-width="2.8" stroke-linejoin="round"/>
<path d="M576.82 1304.65L586.92 1311.95L583.06 1323.75L570.58 1323.75L566.72 1311.95Z" fill="#fff" stroke="#3a7fb6" stroke-width="2.8" stroke-linejoin="round"/>
<path d="M590.93 1326.35L601.03 1333.65L597.17 1345.45L584.68 1345.45L580.83 1333.65Z" fill="#fff" stroke="#3a7fb6" stroke-width="2.8" stroke-linejoin="round"/>
<path d="M605.03 1326.95L615.13 1334.25L611.28 1346.05L598.79 1346.05L594.93 1334.25Z" fill="#fff" stroke="#3a7fb6" stroke-width="2.8" stroke-linejoin="round"/>
<path d="M626.19 1350.15L636.29 1357.45L632.43 1369.25L619.95 1369.25L616.09 1357.45Z" fill="#fff" stroke="#3a7fb6" stroke-width="2.8" stroke-linejoin="round"/>
<path d="M640.3 1283.25L650.4 1290.55L646.54 1302.35L634.06 1302.35L630.2 1290.55Z" fill="#fff" stroke="#3a7fb6" stroke-width="2.8" stroke-linejoin="round"/>
<path d="M654.4 1302.95L664.5 1310.25L660.65 1322.05L648.16 1322.05L644.3 1310.25Z" fill="#fff" stroke="#3a7fb6" stroke-width="2.8" stroke-linejoin="round"/>
<path d="M675.56 1331.45L685.66 1338.75L681.81 1350.55L669.32 1350.55L665.46 1338.75Z" fill="#fff" stroke="#3a7fb6" stroke-width="2.8" stroke-linejoin="round"/>
<path d="M689.67 1342.85L699.77 1350.15L695.91 1361.95L683.43 1361.95L679.57 1350.15Z" fill="#fff" stroke="#3a7fb6" stroke-width="2.8" stroke-linejoin="round"/>
<path d="M710.83 1305.25L720.93 1312.55L717.07 1324.35L704.59 1324.35L700.73 1312.55Z" fill="#fff" stroke="#3a7fb6" stroke-width="2.8" stroke-linejoin="round"/>
<path d="M724.93 1328.35L735.03 1335.65L731.18 1347.45L718.69 1347.45L714.83 1335.65Z" fill="#fff" stroke="#3a7fb6" stroke-width="2.8" stroke-linejoin="round"/>
<path d="M739.04 1280.15L749.14 1287.45L745.28 1299.25L732.8 1299.25L728.94 1287.45Z" fill="#fff" stroke="#3a7fb6" stroke-width="2.8" stroke-linejoin="round"/>
<path d="M753.15 1306.65L763.25 1313.95L759.39 1325.75L746.9 1325.75L743.05 1313.95Z" fill="#fff" stroke="#3a7fb6" stroke-width="2.8" stroke-linejoin="round"/>
<path d="M774.31 1333.95L784.41 1341.25L780.55 1353.05L768.06 1353.05L764.21 1341.25Z" fill="#fff" stroke="#3a7fb6" stroke-width="2.8" stroke-linejoin="round"/>
<path d="M788.41 1315.95L798.51 1323.25L794.65 1335.05L782.17 1335.05L778.31 1323.25Z" fill="#fff" stroke="#3a7fb6" stroke-width="2.8" stroke-linejoin="round"/>
<path d="M802.52 1314.95L812.62 1322.25L808.76 1334.05L796.27 1334.05L792.42 1322.25Z" fill="#fff" stroke="#3a7fb6" stroke-width="2.8" stroke-linejoin="round"/>
<path d="M816.62 1304.65L826.72 1311.95L822.87 1323.75L810.38 1323.75L806.52 1311.95Z" fill="#fff" stroke="#3a7fb6" stroke-width="2.8" stroke-linejoin="round"/>
<path d="M837.78 1353.45L847.88 1360.75L844.02 1372.55L831.54 1372.55L827.68 1360.75Z" fill="#fff" stroke="#3a7fb6" stroke-width="2.8" stroke-linejoin="round"/>
<path d="M851.89 1327.35L861.99 1334.65L858.13 1346.45L845.65 1346.45L841.79 1334.65Z" fill="#fff" stroke="#3a7fb6" stroke-width="2.8" stroke-linejoin="round"/>
<path d="M873.05 1341.25L883.15 1348.55L879.29 1360.35L866.8 1360.35L862.95 1348.55Z" fill="#fff" stroke="#3a7fb6" stroke-width="2.8" stroke-linejoin="round"/>
<path d="M894.21 1344.45L904.31 1351.75L900.45 1363.55L887.96 1363.55L884.11 1351.75Z" fill="#fff" stroke="#3a7fb6" stroke-width="2.8" stroke-linejoin="round"/>
<path d="M908.31 1345.15L918.41 1352.45L914.55 1364.25L902.07 1364.25L898.21 1352.45Z" fill="#fff" stroke="#3a7fb6" stroke-width="2.8" stroke-linejoin="round"/>
<path d="M929.47 1346.45L939.57 1353.75L935.71 1365.55L923.23 1365.55L919.37 1353.75Z" fill="#fff" stroke="#3a7fb6" stroke-width="2.8" stroke-linejoin="round"/>
<path d="M943.58 1373.95L953.68 1381.25L949.82 1393.05L937.33 1393.05L933.48 1381.25Z" fill="#fff" stroke="#3a7fb6" stroke-width="2.8" stroke-linejoin="round"/>
<path d="M957.68 1340.65L967.78 1347.95L963.93 1359.75L951.44 1359.75L947.58 1347.95Z" fill="#fff" stroke="#3a7fb6" stroke-width="2.8" stroke-linejoin="round"/>
<path d="M978.84 1342.05L988.94 1349.35L985.08 1361.15L972.6 1361.15L968.74 1349.35Z" fill="#fff" stroke="#3a7fb6" stroke-width="2.8" stroke-linejoin="round"/>
<path d="M992.95 1326.95L1003.05 1334.25L999.19 1346.05L986.71 1346.05L982.85 1334.25Z" fill="#fff" stroke="#3a7fb6" stroke-width="2.8" stroke-linejoin="round"/>
<path d="M1007.05 1316.55L1017.15 1323.85L1013.3 1335.65L1000.81 1335.65L996.95 1323.85Z" fill="#fff" stroke="#3a7fb6" stroke-width="2.8" stroke-linejoin="round"/>
<path d="M1028.21 1337.75L1038.31 1345.05L1034.46 1356.85L1021.97 1356.85L1018.11 1345.05Z" fill="#fff" stroke="#3a7fb6" stroke-width="2.8" stroke-linejoin="round"/>
<path d="M1042.32 1362.65L1052.42 1369.95L1048.56 1381.75L1036.08 1381.75L1032.22 1369.95Z" fill="#fff" stroke="#3a7fb6" stroke-width="2.8" stroke-linejoin="round"/>
<path d="M1056.42 1355.45L1066.52 1362.75L1062.67 1374.55L1050.18 1374.55L1046.33 1362.75Z" fill="#fff" stroke="#3a7fb6" stroke-width="2.8" stroke-linejoin="round"/>
<path d="M1077.58 1330.95L1087.68 1338.25L1083.83 1350.05L1071.34 1350.05L1067.48 1338.25Z" fill="#fff" stroke="#3a7fb6" stroke-width="2.8" stroke-linejoin="round"/>
<path d="M1091.69 1316.65L1101.79 1323.95L1097.93 1335.75L1085.45 1335.75L1081.59 1323.95Z" fill="#fff" stroke="#3a7fb6" stroke-width="2.8" stroke-linejoin="round"/>
<path d="M1105.8 1334.35L1115.9 1341.65L1112.04 1353.45L1099.55 1353.45L1095.7 1341.65Z" fill="#fff" stroke="#3a7fb6" stroke-width="2.8" stroke-linejoin="round"/>
<path d="M1134.01 1284.75L1144.11 1292.05L1140.25 1303.85L1127.77 1303.85L1123.91 1292.05Z" fill="#fff" stroke="#3a7fb6" stroke-width="2.8" stroke-linejoin="round"/>
<path d="M1148.11 1334.35L1158.21 1341.65L1154.36 1353.45L1141.87 1353.45L1138.01 1341.65Z" fill="#fff" stroke="#3a7fb6" stroke-width="2.8" stroke-linejoin="round"/>
<path d="M1162.22 1296.15L1172.32 1303.45L1168.46 1315.25L1155.98 1315.25L1152.12 1303.45Z" fill="#fff" stroke="#3a7fb6" stroke-width="2.8" stroke-linejoin="round"/>
<path d="M1183.38 1381.65L1193.48 1388.95L1189.62 1400.75L1177.14 1400.75L1173.28 1388.95Z" fill="#fff" stroke="#3a7fb6" stroke-width="2.8" stroke-linejoin="round"/>
<path d="M1197.48 1318.45L1207.58 1325.75L1203.73 1337.55L1191.24 1337.55L1187.38 1325.75Z" fill="#fff" stroke="#3a7fb6" stroke-width="2.8" stroke-linejoin="round"/>
<path d="M1218.64 1346.25L1228.74 1353.55L1224.89 1365.35L1212.4 1365.35L1208.54 1353.55Z" fill="#fff" stroke="#3a7fb6" stroke-width="2.8" stroke-linejoin="round"/>
<path d="M1232.75 1370.85L1242.85 1378.15L1238.99 1389.95L1226.51 1389.95L1222.65 1378.15Z" fill="#fff" stroke="#3a7fb6" stroke-width="2.8" stroke-linejoin="round"/>
<path d="M1246.86 1317.95L1256.96 1325.25L1253.1 1337.05L1240.61 1337.05L1236.76 1325.25Z" fill="#fff" stroke="#3a7fb6" stroke-width="2.8" stroke-linejoin="round"/>
<path d="M1260.96 1332.55L1271.06 1339.85L1267.2 1351.65L1254.72 1351.65L1250.86 1339.85Z" fill="#fff" stroke="#3a7fb6" stroke-width="2.8" stroke-linejoin="round"/>
<path d="M1275.07 1357.25L1285.17 1364.55L1281.31 1376.35L1268.83 1376.35L1264.97 1364.55Z" fill="#fff" stroke="#3a7fb6" stroke-width="2.8" stroke-linejoin="round"/>
<path d="M1289.17 1338.45L1299.27 1345.75L1295.42 1357.55L1282.93 1357.55L1279.07 1345.75Z" fill="#fff" stroke="#3a7fb6" stroke-width="2.8" stroke-linejoin="round"/>
<path d="M1303.28 1334.85L1313.38 1342.15L1309.52 1353.95L1297.04 1353.95L1293.18 1342.15Z" fill="#fff" stroke="#3a7fb6" stroke-width="2.8" stroke-linejoin="round"/>
<path d="M1324.44 1368.85L1334.54 1376.15L1330.68 1387.95L1318.2 1387.95L1314.34 1376.15Z" fill="#fff" stroke="#3a7fb6" stroke-width="2.8" stroke-linejoin="round"/>
<line x1="267.5" y1="1137.9" x2="267.5" y2="1605.3" stroke="#444" stroke-width="2.2" stroke-dasharray="18.8 8.1"/>
<line x1="729" y1="1137.9" x2="729" y2="1605.3" stroke="#444" stroke-width="2.2" stroke-dasharray="18.8 8.1"/>
<rect x="160.8" y="1137.8" width="1183.5" height="467.5" fill="none" stroke="#000" stroke-width="3.3"/>
<line x1="148" y1="1605.4" x2="160.8" y2="1605.4" stroke="#000" stroke-width="3.0"/>
<line x1="148" y1="1488.48" x2="160.8" y2="1488.48" stroke="#000" stroke-width="3.0"/>
<line x1="148" y1="1371.56" x2="160.8" y2="1371.56" stroke="#000" stroke-width="3.0"/>
<line x1="148" y1="1254.64" x2="160.8" y2="1254.64" stroke="#000" stroke-width="3.0"/>
<line x1="148" y1="1137.72" x2="160.8" y2="1137.72" stroke="#000" stroke-width="3.0"/>
<line x1="154.8" y1="1546.94" x2="160.8" y2="1546.94" stroke="#000" stroke-width="3.0"/>
<line x1="154.8" y1="1430.02" x2="160.8" y2="1430.02" stroke="#000" stroke-width="3.0"/>
<line x1="154.8" y1="1313.1" x2="160.8" y2="1313.1" stroke="#000" stroke-width="3.0"/>
<line x1="154.8" y1="1196.18" x2="160.8" y2="1196.18" stroke="#000" stroke-width="3.0"/>
<text x="138.8" y="1614.12" font-size="30.5" text-anchor="end" font-family="Liberation Sans, sans-serif" >0</text>
<text x="138.8" y="1497.2" font-size="30.5" text-anchor="end" font-family="Liberation Sans, sans-serif" >2</text>
<text x="138.8" y="1380.28" font-size="30.5" text-anchor="end" font-family="Liberation Sans, sans-serif" >4</text>
<text x="138.8" y="1263.36" font-size="30.5" text-anchor="end" font-family="Liberation Sans, sans-serif" >6</text>
<text x="138.8" y="1146.44" font-size="30.5" text-anchor="end" font-family="Liberation Sans, sans-serif" >8</text>
<line x1="1331.8" y1="1605.4" x2="1344.3" y2="1605.4" stroke="#000" stroke-width="3.0"/>
<line x1="1331.8" y1="1511.88" x2="1344.3" y2="1511.88" stroke="#000" stroke-width="3.0"/>
<line x1="1331.8" y1="1418.36" x2="1344.3" y2="1418.36" stroke="#000" stroke-width="3.0"/>
<line x1="1331.8" y1="1324.84" x2="1344.3" y2="1324.84" stroke="#000" stroke-width="3.0"/>
<line x1="1331.8" y1="1231.32" x2="1344.3" y2="1231.32" stroke="#000" stroke-width="3.0"/>
<line x1="1331.8" y1="1137.8" x2="1344.3" y2="1137.8" stroke="#000" stroke-width="3.0"/>
<line x1="1338.3" y1="1558.64" x2="1344.3" y2="1558.64" stroke="#000" stroke-width="3.0"/>
<line x1="1338.3" y1="1465.12" x2="1344.3" y2="1465.12" stroke="#000" stroke-width="3.0"/>
<line x1="1338.3" y1="1371.6" x2="1344.3" y2="1371.6" stroke="#000" stroke-width="3.0"/>
<line x1="1338.3" y1="1278.08" x2="1344.3" y2="1278.08" stroke="#000" stroke-width="3.0"/>
<line x1="1338.3" y1="1184.56" x2="1344.3" y2="1184.56" stroke="#000" stroke-width="3.0"/>
<text x="1359.5" y="1614.12" font-size="30.5" text-anchor="start" font-family="Liberation Sans, sans-serif" >0</text>
<text x="1359.5" y="1520.6" font-size="30.5" text-anchor="start" font-family="Liberation Sans, sans-serif" >20</text>
<text x="1359.5" y="1427.08" font-size="30.5" text-anchor="start" font-family="Liberation Sans, sans-serif" >40</text>
<text x="1359.5" y="1333.56" font-size="30.5" text-anchor="start" font-family="Liberation Sans, sans-serif" >60</text>
<text x="1359.5" y="1240.04" font-size="30.5" text-anchor="start" font-family="Liberation Sans, sans-serif" >80</text>
<text x="1359.5" y="1146.52" font-size="30.5" text-anchor="start" font-family="Liberation Sans, sans-serif" >100</text>
<line x1="174.8" y1="1605.3" x2="174.8" y2="1617.6" stroke="#000" stroke-width="3.0"/>
<line x1="456.92" y1="1605.3" x2="456.92" y2="1617.6" stroke="#000" stroke-width="3.0"/>
<line x1="739.04" y1="1605.3" x2="739.04" y2="1617.6" stroke="#000" stroke-width="3.0"/>
<line x1="1021.16" y1="1605.3" x2="1021.16" y2="1617.6" stroke="#000" stroke-width="3.0"/>
<line x1="1303.28" y1="1605.3" x2="1303.28" y2="1617.6" stroke="#000" stroke-width="3.0"/>
<line x1="315.86" y1="1605.3" x2="315.86" y2="1611.6" stroke="#000" stroke-width="3.0"/>
<line x1="597.98" y1="1605.3" x2="597.98" y2="1611.6" stroke="#000" stroke-width="3.0"/>
<line x1="880.1" y1="1605.3" x2="880.1" y2="1611.6" stroke="#000" stroke-width="3.0"/>
<line x1="1162.22" y1="1605.3" x2="1162.22" y2="1611.6" stroke="#000" stroke-width="3.0"/>
<text x="174.8" y="1650.8" font-size="30.5" text-anchor="middle" font-family="Liberation Sans, sans-serif" >0</text>
<text x="456.92" y="1650.8" font-size="30.5" text-anchor="middle" font-family="Liberation Sans, sans-serif" >40</text>
<text x="739.04" y="1650.8" font-size="30.5" text-anchor="middle" font-family="Liberation Sans, sans-serif" >80</text>
<text x="1021.16" y="1650.8" font-size="30.5" text-anchor="middle" font-family="Liberation Sans, sans-serif" >120</text>
<text x="1303.28" y="1650.8" font-size="30.5" text-anchor="middle" font-family="Liberation Sans, sans-serif" >160</text>
<text x="753.2" y="1689.4" font-size="30.5" text-anchor="middle" font-family="Liberation Sans, sans-serif" >Time (day)</text>
<path d="M406.7 1099.3L417.1 1106.4L413.13 1117.9L400.27 1117.9L396.3 1106.4Z" fill="#fff" stroke="#3a7fb6" stroke-width="2.8" stroke-linejoin="round"/>
<text x="448.9" y="1119.8" font-size="30.5" text-anchor="start" font-family="Liberation Sans, sans-serif" >Inf. COD/TIN</text>
<rect x="645.6" y="1104.9" width="40.5" height="9.5" fill="#fff" stroke="#b48ee0" stroke-width="1.5"/>
<text x="707.6" y="1120.3" font-size="30.5" text-anchor="start" font-family="Liberation Sans, sans-serif" >NAR</text>
<line x1="792.5" y1="1109.8" x2="834.8" y2="1109.8" stroke="#2e8b1e" stroke-width="3.4" stroke-linecap="round"/>
<text x="856.7" y="1120.3" font-size="30.5" text-anchor="start" font-family="Liberation Sans, sans-serif" >Aeration duration</text>
<text transform="translate(66.5 1388) rotate(-90)" font-size="30.5" text-anchor="middle" font-family="Liberation Sans, sans-serif">Aeration duration (h),</text>
<text transform="translate(105.2 1381.5) rotate(-90)" font-size="30.5" text-anchor="middle" font-family="Liberation Sans, sans-serif">Influent COD/TIN</text>
<text transform="translate(1435 1371) rotate(-90)" font-size="30.5" text-anchor="middle" font-family="Liberation Sans, sans-serif">NAR (%)</text>
<text x="1.2" y="1143" font-size="48" text-anchor="start" font-family="Liberation Sans, sans-serif" font-weight="bold">c</text>
</svg>
</body></html>
